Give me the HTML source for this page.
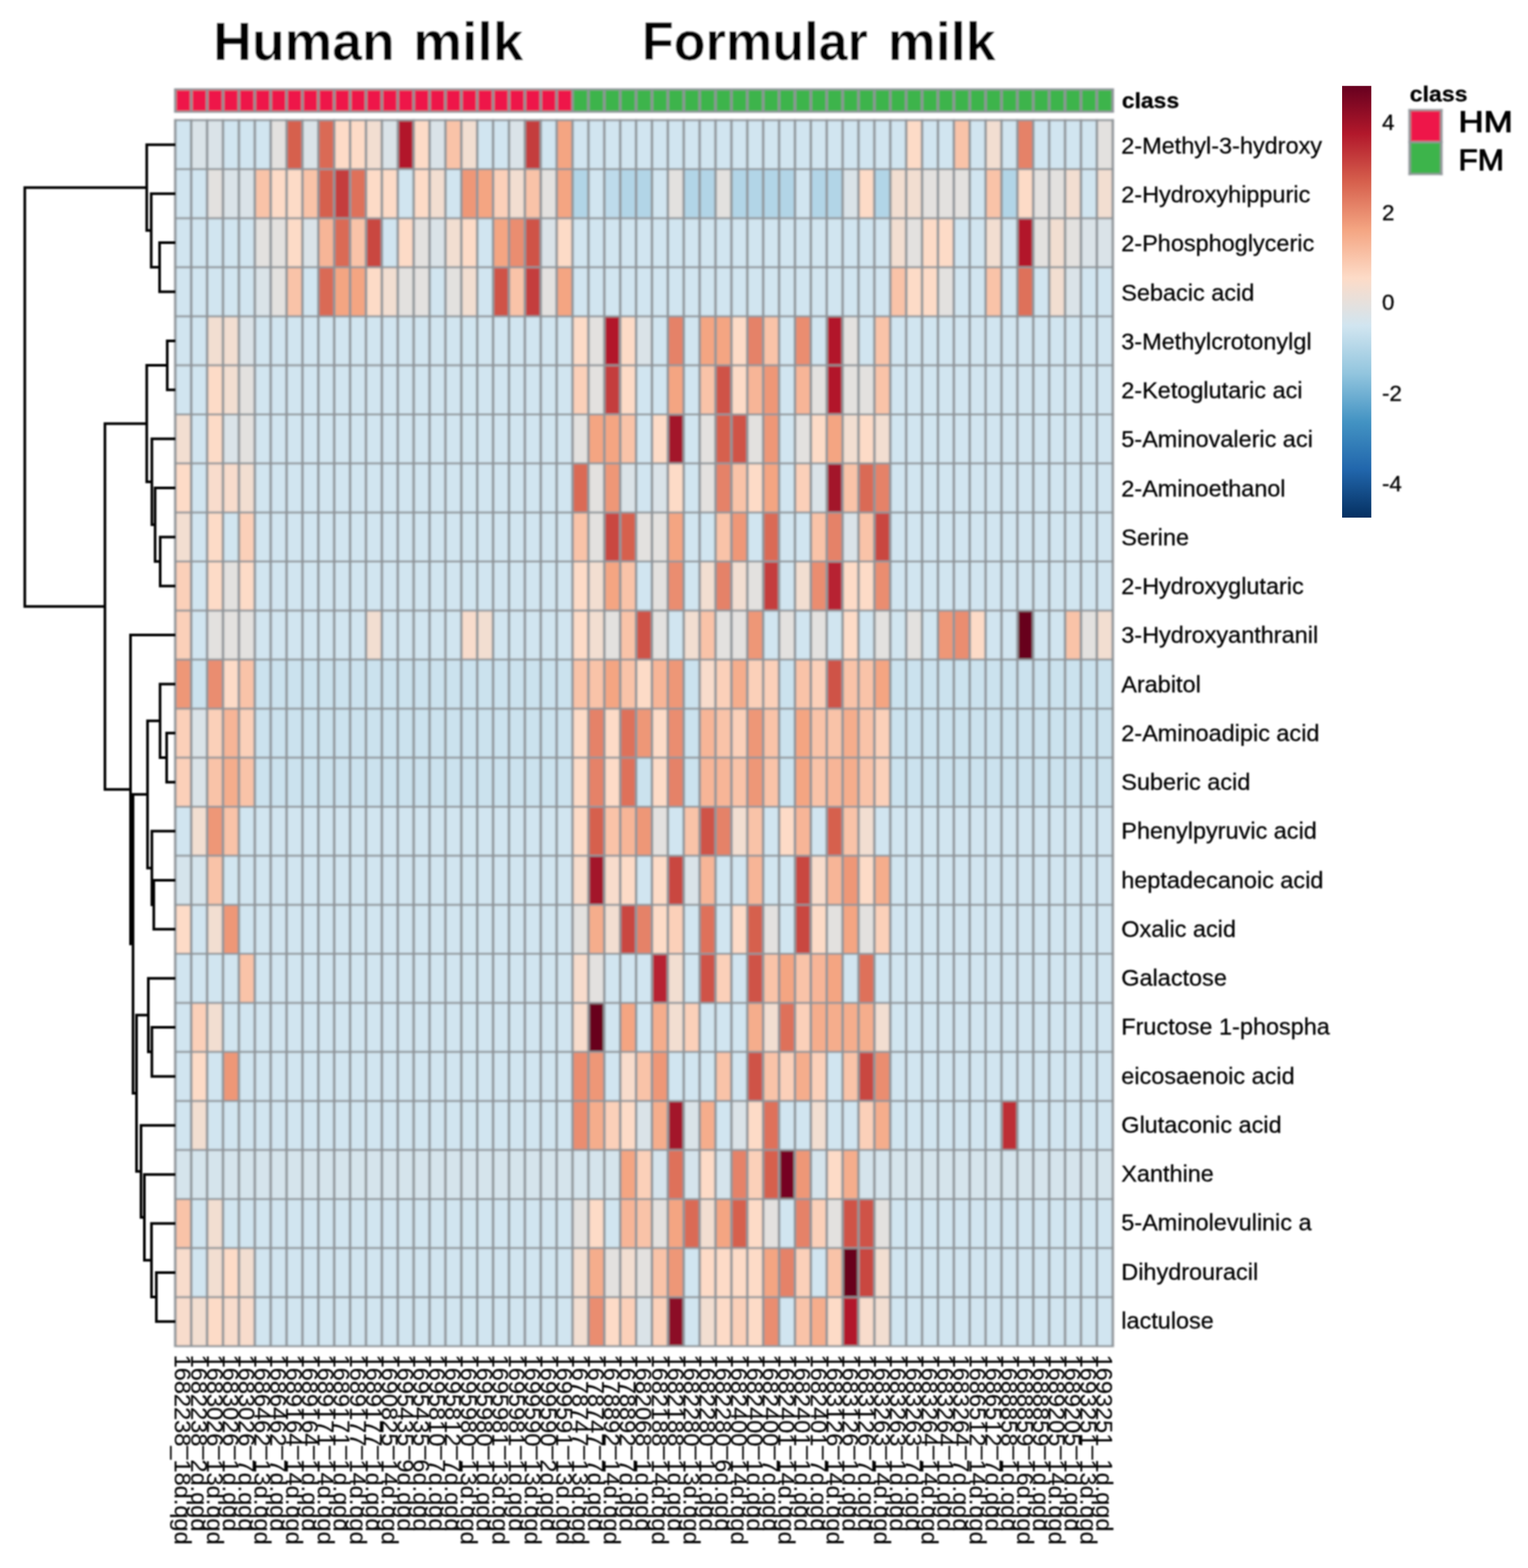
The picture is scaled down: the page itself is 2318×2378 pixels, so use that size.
<!DOCTYPE html>
<html lang="en"><head><meta charset="utf-8"><title>Heatmap: Human milk vs Formular milk</title>
<style>html,body{margin:0;padding:0;background:#fff}svg{display:block}text{font-family:"Liberation Sans",Arial,Helvetica,sans-serif;fill:#000000;stroke:#000000;stroke-width:0.4}.b{font-weight:bold}.c{stroke-width:0.2;fill:#000}.t{font-weight:bold;fill:#000;stroke:none}.tt{stroke:#fff;stroke-width:0.6}.d{fill:none;stroke:#000000;stroke-width:4.0;stroke-linejoin:miter;stroke-linecap:butt}</style></head><body>
<svg width="2318" height="2378" viewBox="0 0 2318 2378" role="img" aria-label="Clustered heatmap of metabolites in human milk and formula milk samples">
<defs><linearGradient id="lg" x1="0" y1="0" x2="0" y2="1">
<stop offset="0.0000" stop-color="#67001F"/>
<stop offset="0.1111" stop-color="#B2182B"/>
<stop offset="0.2222" stop-color="#D6604D"/>
<stop offset="0.3333" stop-color="#F4A582"/>
<stop offset="0.4444" stop-color="#FDDBC7"/>
<stop offset="0.5556" stop-color="#D1E5F0"/>
<stop offset="0.6667" stop-color="#92C5DE"/>
<stop offset="0.7778" stop-color="#4393C3"/>
<stop offset="0.8889" stop-color="#2166AC"/>
<stop offset="1.0000" stop-color="#053061"/>
</linearGradient>
<filter id="bl" x="-2%" y="-2%" width="104%" height="104%"><feGaussianBlur stdDeviation="1.0"/></filter>
<filter id="bd" x="-5%" y="-2%" width="110%" height="104%"><feGaussianBlur stdDeviation="1.3"/></filter>
<filter id="bg" x="-2%" y="-2%" width="104%" height="104%"><feGaussianBlur stdDeviation="1.6"/></filter>
</defs>
<rect x="0" y="0" width="2318" height="2378" fill="#fff"/>
<g filter="url(#bl)">
<text class="t tt" y="90.9" font-size="80.8"><tspan x="323.6" textLength="275.2" lengthAdjust="spacingAndGlyphs">Human</tspan> <tspan x="626.8" textLength="167.2" lengthAdjust="spacingAndGlyphs">milk</tspan></text>
<text class="t tt" y="90.9" font-size="80.8"><tspan x="973.8" textLength="342.8" lengthAdjust="spacingAndGlyphs">Formular</tspan> <tspan x="1346.8" textLength="163.8" lengthAdjust="spacingAndGlyphs">milk</tspan></text>
</g>
<g filter="url(#bg)">
<rect x="266.00" y="135.50" width="602.54" height="34.00" fill="#ee1248"/>
<rect x="868.54" y="135.50" width="819.46" height="34.00" fill="#3cb44b"/>
<rect x="266.00" y="182.20" width="24.10" height="74.37" fill="#d1e5f0"/>
<rect x="290.10" y="182.20" width="24.10" height="74.37" fill="#dae3e8"/>
<rect x="314.20" y="182.20" width="24.10" height="74.37" fill="#dae3e8"/>
<rect x="338.31" y="182.20" width="24.10" height="74.37" fill="#d1e5f0"/>
<rect x="362.41" y="182.20" width="24.10" height="74.37" fill="#d1e5f0"/>
<rect x="386.51" y="182.20" width="24.10" height="74.37" fill="#d1e5f0"/>
<rect x="410.61" y="182.20" width="24.10" height="74.37" fill="#e3e1df"/>
<rect x="434.71" y="182.20" width="24.10" height="74.37" fill="#d6604d"/>
<rect x="458.81" y="182.20" width="24.10" height="74.37" fill="#dae3e8"/>
<rect x="482.92" y="182.20" width="24.10" height="74.37" fill="#da6a55"/>
<rect x="507.02" y="182.20" width="24.10" height="74.37" fill="#fddbc7"/>
<rect x="531.12" y="182.20" width="24.10" height="74.37" fill="#fddbc7"/>
<rect x="555.22" y="182.20" width="24.10" height="74.37" fill="#f2ded1"/>
<rect x="579.32" y="182.20" width="24.10" height="74.37" fill="#dae3e8"/>
<rect x="603.42" y="182.20" width="24.10" height="74.37" fill="#b2182b"/>
<rect x="627.53" y="182.20" width="24.10" height="74.37" fill="#fddbc7"/>
<rect x="651.63" y="182.20" width="24.10" height="74.37" fill="#dae3e8"/>
<rect x="675.73" y="182.20" width="24.10" height="74.37" fill="#f9c3a8"/>
<rect x="699.83" y="182.20" width="24.10" height="74.37" fill="#f2ded1"/>
<rect x="723.93" y="182.20" width="24.10" height="74.37" fill="#d1e5f0"/>
<rect x="748.03" y="182.20" width="24.10" height="74.37" fill="#d1e5f0"/>
<rect x="772.14" y="182.20" width="24.10" height="74.37" fill="#dae3e8"/>
<rect x="796.24" y="182.20" width="24.10" height="74.37" fill="#c43c3c"/>
<rect x="820.34" y="182.20" width="24.10" height="74.37" fill="#d1e5f0"/>
<rect x="844.44" y="182.20" width="24.10" height="74.37" fill="#f4a582"/>
<rect x="868.54" y="182.20" width="24.10" height="74.37" fill="#d1e5f0"/>
<rect x="892.64" y="182.20" width="24.10" height="74.37" fill="#d1e5f0"/>
<rect x="916.75" y="182.20" width="24.10" height="74.37" fill="#d1e5f0"/>
<rect x="940.85" y="182.20" width="24.10" height="74.37" fill="#d1e5f0"/>
<rect x="964.95" y="182.20" width="24.10" height="74.37" fill="#d1e5f0"/>
<rect x="989.05" y="182.20" width="24.10" height="74.37" fill="#d1e5f0"/>
<rect x="1013.15" y="182.20" width="24.10" height="74.37" fill="#d1e5f0"/>
<rect x="1037.25" y="182.20" width="24.10" height="74.37" fill="#d1e5f0"/>
<rect x="1061.36" y="182.20" width="24.10" height="74.37" fill="#d1e5f0"/>
<rect x="1085.46" y="182.20" width="24.10" height="74.37" fill="#d1e5f0"/>
<rect x="1109.56" y="182.20" width="24.10" height="74.37" fill="#d1e5f0"/>
<rect x="1133.66" y="182.20" width="24.10" height="74.37" fill="#d1e5f0"/>
<rect x="1157.76" y="182.20" width="24.10" height="74.37" fill="#d1e5f0"/>
<rect x="1181.86" y="182.20" width="24.10" height="74.37" fill="#d1e5f0"/>
<rect x="1205.97" y="182.20" width="24.10" height="74.37" fill="#d1e5f0"/>
<rect x="1230.07" y="182.20" width="24.10" height="74.37" fill="#d1e5f0"/>
<rect x="1254.17" y="182.20" width="24.10" height="74.37" fill="#d1e5f0"/>
<rect x="1278.27" y="182.20" width="24.10" height="74.37" fill="#d1e5f0"/>
<rect x="1302.37" y="182.20" width="24.10" height="74.37" fill="#d1e5f0"/>
<rect x="1326.47" y="182.20" width="24.10" height="74.37" fill="#d1e5f0"/>
<rect x="1350.58" y="182.20" width="24.10" height="74.37" fill="#d1e5f0"/>
<rect x="1374.68" y="182.20" width="24.10" height="74.37" fill="#fddbc7"/>
<rect x="1398.78" y="182.20" width="24.10" height="74.37" fill="#d1e5f0"/>
<rect x="1422.88" y="182.20" width="24.10" height="74.37" fill="#d1e5f0"/>
<rect x="1446.98" y="182.20" width="24.10" height="74.37" fill="#f9c3a8"/>
<rect x="1471.08" y="182.20" width="24.10" height="74.37" fill="#d1e5f0"/>
<rect x="1495.19" y="182.20" width="24.10" height="74.37" fill="#f2ded1"/>
<rect x="1519.29" y="182.20" width="24.10" height="74.37" fill="#d1e5f0"/>
<rect x="1543.39" y="182.20" width="24.10" height="74.37" fill="#e58268"/>
<rect x="1567.49" y="182.20" width="24.10" height="74.37" fill="#d1e5f0"/>
<rect x="1591.59" y="182.20" width="24.10" height="74.37" fill="#d1e5f0"/>
<rect x="1615.69" y="182.20" width="24.10" height="74.37" fill="#d1e5f0"/>
<rect x="1639.80" y="182.20" width="24.10" height="74.37" fill="#d1e5f0"/>
<rect x="1663.90" y="182.20" width="24.10" height="74.37" fill="#e3e1df"/>
<rect x="266.00" y="256.57" width="24.10" height="74.37" fill="#d1e5f0"/>
<rect x="290.10" y="256.57" width="24.10" height="74.37" fill="#d1e5f0"/>
<rect x="314.20" y="256.57" width="24.10" height="74.37" fill="#e3e1df"/>
<rect x="338.31" y="256.57" width="24.10" height="74.37" fill="#dae3e8"/>
<rect x="362.41" y="256.57" width="24.10" height="74.37" fill="#dae3e8"/>
<rect x="386.51" y="256.57" width="24.10" height="74.37" fill="#f9c3a8"/>
<rect x="410.61" y="256.57" width="24.10" height="74.37" fill="#fddbc7"/>
<rect x="434.71" y="256.57" width="24.10" height="74.37" fill="#fddbc7"/>
<rect x="458.81" y="256.57" width="24.10" height="74.37" fill="#f9c3a8"/>
<rect x="482.92" y="256.57" width="24.10" height="74.37" fill="#d6604d"/>
<rect x="507.02" y="256.57" width="24.10" height="74.37" fill="#c43c3c"/>
<rect x="531.12" y="256.57" width="24.10" height="74.37" fill="#de715a"/>
<rect x="555.22" y="256.57" width="24.10" height="74.37" fill="#fddbc7"/>
<rect x="579.32" y="256.57" width="24.10" height="74.37" fill="#fddbc7"/>
<rect x="603.42" y="256.57" width="24.10" height="74.37" fill="#d1e5f0"/>
<rect x="627.53" y="256.57" width="24.10" height="74.37" fill="#fddbc7"/>
<rect x="651.63" y="256.57" width="24.10" height="74.37" fill="#f2ded1"/>
<rect x="675.73" y="256.57" width="24.10" height="74.37" fill="#d1e5f0"/>
<rect x="699.83" y="256.57" width="24.10" height="74.37" fill="#ee9777"/>
<rect x="723.93" y="256.57" width="24.10" height="74.37" fill="#f4a582"/>
<rect x="748.03" y="256.57" width="24.10" height="74.37" fill="#fbd0b9"/>
<rect x="772.14" y="256.57" width="24.10" height="74.37" fill="#f2ded1"/>
<rect x="796.24" y="256.57" width="24.10" height="74.37" fill="#f9c3a8"/>
<rect x="820.34" y="256.57" width="24.10" height="74.37" fill="#e3e1df"/>
<rect x="844.44" y="256.57" width="24.10" height="74.37" fill="#f4a582"/>
<rect x="868.54" y="256.57" width="24.10" height="74.37" fill="#b2d5e7"/>
<rect x="892.64" y="256.57" width="24.10" height="74.37" fill="#d1e5f0"/>
<rect x="916.75" y="256.57" width="24.10" height="74.37" fill="#bedbeb"/>
<rect x="940.85" y="256.57" width="24.10" height="74.37" fill="#b2d5e7"/>
<rect x="964.95" y="256.57" width="24.10" height="74.37" fill="#b2d5e7"/>
<rect x="989.05" y="256.57" width="24.10" height="74.37" fill="#d1e5f0"/>
<rect x="1013.15" y="256.57" width="24.10" height="74.37" fill="#e3e1df"/>
<rect x="1037.25" y="256.57" width="24.10" height="74.37" fill="#b2d5e7"/>
<rect x="1061.36" y="256.57" width="24.10" height="74.37" fill="#b2d5e7"/>
<rect x="1085.46" y="256.57" width="24.10" height="74.37" fill="#e3e1df"/>
<rect x="1109.56" y="256.57" width="24.10" height="74.37" fill="#b2d5e7"/>
<rect x="1133.66" y="256.57" width="24.10" height="74.37" fill="#b2d5e7"/>
<rect x="1157.76" y="256.57" width="24.10" height="74.37" fill="#b2d5e7"/>
<rect x="1181.86" y="256.57" width="24.10" height="74.37" fill="#b2d5e7"/>
<rect x="1205.97" y="256.57" width="24.10" height="74.37" fill="#d1e5f0"/>
<rect x="1230.07" y="256.57" width="24.10" height="74.37" fill="#b2d5e7"/>
<rect x="1254.17" y="256.57" width="24.10" height="74.37" fill="#b2d5e7"/>
<rect x="1278.27" y="256.57" width="24.10" height="74.37" fill="#dae3e8"/>
<rect x="1302.37" y="256.57" width="24.10" height="74.37" fill="#fddbc7"/>
<rect x="1326.47" y="256.57" width="24.10" height="74.37" fill="#b2d5e7"/>
<rect x="1350.58" y="256.57" width="24.10" height="74.37" fill="#f2ded1"/>
<rect x="1374.68" y="256.57" width="24.10" height="74.37" fill="#f2ded1"/>
<rect x="1398.78" y="256.57" width="24.10" height="74.37" fill="#e3e1df"/>
<rect x="1422.88" y="256.57" width="24.10" height="74.37" fill="#e3e1df"/>
<rect x="1446.98" y="256.57" width="24.10" height="74.37" fill="#e3e1df"/>
<rect x="1471.08" y="256.57" width="24.10" height="74.37" fill="#d1e5f0"/>
<rect x="1495.19" y="256.57" width="24.10" height="74.37" fill="#f9c3a8"/>
<rect x="1519.29" y="256.57" width="24.10" height="74.37" fill="#b2d5e7"/>
<rect x="1543.39" y="256.57" width="24.10" height="74.37" fill="#fddbc7"/>
<rect x="1567.49" y="256.57" width="24.10" height="74.37" fill="#e3e1df"/>
<rect x="1591.59" y="256.57" width="24.10" height="74.37" fill="#e3e1df"/>
<rect x="1615.69" y="256.57" width="24.10" height="74.37" fill="#f2ded1"/>
<rect x="1639.80" y="256.57" width="24.10" height="74.37" fill="#d1e5f0"/>
<rect x="1663.90" y="256.57" width="24.10" height="74.37" fill="#f2ded1"/>
<rect x="266.00" y="330.94" width="24.10" height="74.37" fill="#d1e5f0"/>
<rect x="290.10" y="330.94" width="24.10" height="74.37" fill="#d1e5f0"/>
<rect x="314.20" y="330.94" width="24.10" height="74.37" fill="#d1e5f0"/>
<rect x="338.31" y="330.94" width="24.10" height="74.37" fill="#d1e5f0"/>
<rect x="362.41" y="330.94" width="24.10" height="74.37" fill="#d1e5f0"/>
<rect x="386.51" y="330.94" width="24.10" height="74.37" fill="#e3e1df"/>
<rect x="410.61" y="330.94" width="24.10" height="74.37" fill="#e3e1df"/>
<rect x="434.71" y="330.94" width="24.10" height="74.37" fill="#fddbc7"/>
<rect x="458.81" y="330.94" width="24.10" height="74.37" fill="#dae3e8"/>
<rect x="482.92" y="330.94" width="24.10" height="74.37" fill="#f7b597"/>
<rect x="507.02" y="330.94" width="24.10" height="74.37" fill="#da6a55"/>
<rect x="531.12" y="330.94" width="24.10" height="74.37" fill="#f9c3a8"/>
<rect x="555.22" y="330.94" width="24.10" height="74.37" fill="#c94741"/>
<rect x="579.32" y="330.94" width="24.10" height="74.37" fill="#d1e5f0"/>
<rect x="603.42" y="330.94" width="24.10" height="74.37" fill="#fddbc7"/>
<rect x="627.53" y="330.94" width="24.10" height="74.37" fill="#e3e1df"/>
<rect x="651.63" y="330.94" width="24.10" height="74.37" fill="#dae3e8"/>
<rect x="675.73" y="330.94" width="24.10" height="74.37" fill="#f2ded1"/>
<rect x="699.83" y="330.94" width="24.10" height="74.37" fill="#fddbc7"/>
<rect x="723.93" y="330.94" width="24.10" height="74.37" fill="#d1e5f0"/>
<rect x="748.03" y="330.94" width="24.10" height="74.37" fill="#f4a582"/>
<rect x="772.14" y="330.94" width="24.10" height="74.37" fill="#ea8d6f"/>
<rect x="796.24" y="330.94" width="24.10" height="74.37" fill="#cf5246"/>
<rect x="820.34" y="330.94" width="24.10" height="74.37" fill="#dae3e8"/>
<rect x="844.44" y="330.94" width="24.10" height="74.37" fill="#fddbc7"/>
<rect x="868.54" y="330.94" width="24.10" height="74.37" fill="#d1e5f0"/>
<rect x="892.64" y="330.94" width="24.10" height="74.37" fill="#d1e5f0"/>
<rect x="916.75" y="330.94" width="24.10" height="74.37" fill="#d1e5f0"/>
<rect x="940.85" y="330.94" width="24.10" height="74.37" fill="#d1e5f0"/>
<rect x="964.95" y="330.94" width="24.10" height="74.37" fill="#d1e5f0"/>
<rect x="989.05" y="330.94" width="24.10" height="74.37" fill="#d1e5f0"/>
<rect x="1013.15" y="330.94" width="24.10" height="74.37" fill="#d1e5f0"/>
<rect x="1037.25" y="330.94" width="24.10" height="74.37" fill="#d1e5f0"/>
<rect x="1061.36" y="330.94" width="24.10" height="74.37" fill="#d1e5f0"/>
<rect x="1085.46" y="330.94" width="24.10" height="74.37" fill="#d1e5f0"/>
<rect x="1109.56" y="330.94" width="24.10" height="74.37" fill="#d1e5f0"/>
<rect x="1133.66" y="330.94" width="24.10" height="74.37" fill="#d1e5f0"/>
<rect x="1157.76" y="330.94" width="24.10" height="74.37" fill="#d1e5f0"/>
<rect x="1181.86" y="330.94" width="24.10" height="74.37" fill="#d1e5f0"/>
<rect x="1205.97" y="330.94" width="24.10" height="74.37" fill="#d1e5f0"/>
<rect x="1230.07" y="330.94" width="24.10" height="74.37" fill="#d1e5f0"/>
<rect x="1254.17" y="330.94" width="24.10" height="74.37" fill="#d1e5f0"/>
<rect x="1278.27" y="330.94" width="24.10" height="74.37" fill="#d1e5f0"/>
<rect x="1302.37" y="330.94" width="24.10" height="74.37" fill="#d1e5f0"/>
<rect x="1326.47" y="330.94" width="24.10" height="74.37" fill="#d1e5f0"/>
<rect x="1350.58" y="330.94" width="24.10" height="74.37" fill="#f2ded1"/>
<rect x="1374.68" y="330.94" width="24.10" height="74.37" fill="#e3e1df"/>
<rect x="1398.78" y="330.94" width="24.10" height="74.37" fill="#fddbc7"/>
<rect x="1422.88" y="330.94" width="24.10" height="74.37" fill="#fddbc7"/>
<rect x="1446.98" y="330.94" width="24.10" height="74.37" fill="#d1e5f0"/>
<rect x="1471.08" y="330.94" width="24.10" height="74.37" fill="#d1e5f0"/>
<rect x="1495.19" y="330.94" width="24.10" height="74.37" fill="#f2ded1"/>
<rect x="1519.29" y="330.94" width="24.10" height="74.37" fill="#d1e5f0"/>
<rect x="1543.39" y="330.94" width="24.10" height="74.37" fill="#b2182b"/>
<rect x="1567.49" y="330.94" width="24.10" height="74.37" fill="#e3e1df"/>
<rect x="1591.59" y="330.94" width="24.10" height="74.37" fill="#f2ded1"/>
<rect x="1615.69" y="330.94" width="24.10" height="74.37" fill="#e3e1df"/>
<rect x="1639.80" y="330.94" width="24.10" height="74.37" fill="#dae3e8"/>
<rect x="1663.90" y="330.94" width="24.10" height="74.37" fill="#dae3e8"/>
<rect x="266.00" y="405.32" width="24.10" height="74.37" fill="#d1e5f0"/>
<rect x="290.10" y="405.32" width="24.10" height="74.37" fill="#d1e5f0"/>
<rect x="314.20" y="405.32" width="24.10" height="74.37" fill="#d1e5f0"/>
<rect x="338.31" y="405.32" width="24.10" height="74.37" fill="#d1e5f0"/>
<rect x="362.41" y="405.32" width="24.10" height="74.37" fill="#d1e5f0"/>
<rect x="386.51" y="405.32" width="24.10" height="74.37" fill="#dae3e8"/>
<rect x="410.61" y="405.32" width="24.10" height="74.37" fill="#e3e1df"/>
<rect x="434.71" y="405.32" width="24.10" height="74.37" fill="#f9c3a8"/>
<rect x="458.81" y="405.32" width="24.10" height="74.37" fill="#d1e5f0"/>
<rect x="482.92" y="405.32" width="24.10" height="74.37" fill="#da6a55"/>
<rect x="507.02" y="405.32" width="24.10" height="74.37" fill="#f4a582"/>
<rect x="531.12" y="405.32" width="24.10" height="74.37" fill="#f4a582"/>
<rect x="555.22" y="405.32" width="24.10" height="74.37" fill="#fddbc7"/>
<rect x="579.32" y="405.32" width="24.10" height="74.37" fill="#f2ded1"/>
<rect x="603.42" y="405.32" width="24.10" height="74.37" fill="#e3e1df"/>
<rect x="627.53" y="405.32" width="24.10" height="74.37" fill="#e3e1df"/>
<rect x="651.63" y="405.32" width="24.10" height="74.37" fill="#d1e5f0"/>
<rect x="675.73" y="405.32" width="24.10" height="74.37" fill="#e3e1df"/>
<rect x="699.83" y="405.32" width="24.10" height="74.37" fill="#f2ded1"/>
<rect x="723.93" y="405.32" width="24.10" height="74.37" fill="#d1e5f0"/>
<rect x="748.03" y="405.32" width="24.10" height="74.37" fill="#cf5246"/>
<rect x="772.14" y="405.32" width="24.10" height="74.37" fill="#f9c3a8"/>
<rect x="796.24" y="405.32" width="24.10" height="74.37" fill="#c43c3c"/>
<rect x="820.34" y="405.32" width="24.10" height="74.37" fill="#e3e1df"/>
<rect x="844.44" y="405.32" width="24.10" height="74.37" fill="#f4a582"/>
<rect x="868.54" y="405.32" width="24.10" height="74.37" fill="#d1e5f0"/>
<rect x="892.64" y="405.32" width="24.10" height="74.37" fill="#d1e5f0"/>
<rect x="916.75" y="405.32" width="24.10" height="74.37" fill="#d1e5f0"/>
<rect x="940.85" y="405.32" width="24.10" height="74.37" fill="#d1e5f0"/>
<rect x="964.95" y="405.32" width="24.10" height="74.37" fill="#d1e5f0"/>
<rect x="989.05" y="405.32" width="24.10" height="74.37" fill="#d1e5f0"/>
<rect x="1013.15" y="405.32" width="24.10" height="74.37" fill="#d1e5f0"/>
<rect x="1037.25" y="405.32" width="24.10" height="74.37" fill="#d1e5f0"/>
<rect x="1061.36" y="405.32" width="24.10" height="74.37" fill="#d1e5f0"/>
<rect x="1085.46" y="405.32" width="24.10" height="74.37" fill="#d1e5f0"/>
<rect x="1109.56" y="405.32" width="24.10" height="74.37" fill="#d1e5f0"/>
<rect x="1133.66" y="405.32" width="24.10" height="74.37" fill="#d1e5f0"/>
<rect x="1157.76" y="405.32" width="24.10" height="74.37" fill="#d1e5f0"/>
<rect x="1181.86" y="405.32" width="24.10" height="74.37" fill="#d1e5f0"/>
<rect x="1205.97" y="405.32" width="24.10" height="74.37" fill="#d1e5f0"/>
<rect x="1230.07" y="405.32" width="24.10" height="74.37" fill="#d1e5f0"/>
<rect x="1254.17" y="405.32" width="24.10" height="74.37" fill="#d1e5f0"/>
<rect x="1278.27" y="405.32" width="24.10" height="74.37" fill="#d1e5f0"/>
<rect x="1302.37" y="405.32" width="24.10" height="74.37" fill="#d1e5f0"/>
<rect x="1326.47" y="405.32" width="24.10" height="74.37" fill="#d1e5f0"/>
<rect x="1350.58" y="405.32" width="24.10" height="74.37" fill="#f9c3a8"/>
<rect x="1374.68" y="405.32" width="24.10" height="74.37" fill="#fddbc7"/>
<rect x="1398.78" y="405.32" width="24.10" height="74.37" fill="#fddbc7"/>
<rect x="1422.88" y="405.32" width="24.10" height="74.37" fill="#e3e1df"/>
<rect x="1446.98" y="405.32" width="24.10" height="74.37" fill="#d1e5f0"/>
<rect x="1471.08" y="405.32" width="24.10" height="74.37" fill="#d1e5f0"/>
<rect x="1495.19" y="405.32" width="24.10" height="74.37" fill="#f9c3a8"/>
<rect x="1519.29" y="405.32" width="24.10" height="74.37" fill="#d1e5f0"/>
<rect x="1543.39" y="405.32" width="24.10" height="74.37" fill="#de715a"/>
<rect x="1567.49" y="405.32" width="24.10" height="74.37" fill="#d1e5f0"/>
<rect x="1591.59" y="405.32" width="24.10" height="74.37" fill="#f2ded1"/>
<rect x="1615.69" y="405.32" width="24.10" height="74.37" fill="#dae3e8"/>
<rect x="1639.80" y="405.32" width="24.10" height="74.37" fill="#d1e5f0"/>
<rect x="1663.90" y="405.32" width="24.10" height="74.37" fill="#d1e5f0"/>
<rect x="266.00" y="479.69" width="24.10" height="74.37" fill="#d1e5f0"/>
<rect x="290.10" y="479.69" width="24.10" height="74.37" fill="#d1e5f0"/>
<rect x="314.20" y="479.69" width="24.10" height="74.37" fill="#f2ded1"/>
<rect x="338.31" y="479.69" width="24.10" height="74.37" fill="#f2ded1"/>
<rect x="362.41" y="479.69" width="24.10" height="74.37" fill="#dae3e8"/>
<rect x="386.51" y="479.69" width="24.10" height="74.37" fill="#d1e5f0"/>
<rect x="410.61" y="479.69" width="24.10" height="74.37" fill="#d1e5f0"/>
<rect x="434.71" y="479.69" width="24.10" height="74.37" fill="#d1e5f0"/>
<rect x="458.81" y="479.69" width="24.10" height="74.37" fill="#d1e5f0"/>
<rect x="482.92" y="479.69" width="24.10" height="74.37" fill="#d1e5f0"/>
<rect x="507.02" y="479.69" width="24.10" height="74.37" fill="#d1e5f0"/>
<rect x="531.12" y="479.69" width="24.10" height="74.37" fill="#d1e5f0"/>
<rect x="555.22" y="479.69" width="24.10" height="74.37" fill="#d1e5f0"/>
<rect x="579.32" y="479.69" width="24.10" height="74.37" fill="#d1e5f0"/>
<rect x="603.42" y="479.69" width="24.10" height="74.37" fill="#d1e5f0"/>
<rect x="627.53" y="479.69" width="24.10" height="74.37" fill="#d1e5f0"/>
<rect x="651.63" y="479.69" width="24.10" height="74.37" fill="#d1e5f0"/>
<rect x="675.73" y="479.69" width="24.10" height="74.37" fill="#d1e5f0"/>
<rect x="699.83" y="479.69" width="24.10" height="74.37" fill="#d1e5f0"/>
<rect x="723.93" y="479.69" width="24.10" height="74.37" fill="#d1e5f0"/>
<rect x="748.03" y="479.69" width="24.10" height="74.37" fill="#d1e5f0"/>
<rect x="772.14" y="479.69" width="24.10" height="74.37" fill="#d1e5f0"/>
<rect x="796.24" y="479.69" width="24.10" height="74.37" fill="#d1e5f0"/>
<rect x="820.34" y="479.69" width="24.10" height="74.37" fill="#d1e5f0"/>
<rect x="844.44" y="479.69" width="24.10" height="74.37" fill="#d1e5f0"/>
<rect x="868.54" y="479.69" width="24.10" height="74.37" fill="#fddbc7"/>
<rect x="892.64" y="479.69" width="24.10" height="74.37" fill="#e3e1df"/>
<rect x="916.75" y="479.69" width="24.10" height="74.37" fill="#b2182b"/>
<rect x="940.85" y="479.69" width="24.10" height="74.37" fill="#fddbc7"/>
<rect x="964.95" y="479.69" width="24.10" height="74.37" fill="#dae3e8"/>
<rect x="989.05" y="479.69" width="24.10" height="74.37" fill="#d1e5f0"/>
<rect x="1013.15" y="479.69" width="24.10" height="74.37" fill="#e58268"/>
<rect x="1037.25" y="479.69" width="24.10" height="74.37" fill="#d1e5f0"/>
<rect x="1061.36" y="479.69" width="24.10" height="74.37" fill="#f4a582"/>
<rect x="1085.46" y="479.69" width="24.10" height="74.37" fill="#f4a582"/>
<rect x="1109.56" y="479.69" width="24.10" height="74.37" fill="#fddbc7"/>
<rect x="1133.66" y="479.69" width="24.10" height="74.37" fill="#e58268"/>
<rect x="1157.76" y="479.69" width="24.10" height="74.37" fill="#f9c3a8"/>
<rect x="1181.86" y="479.69" width="24.10" height="74.37" fill="#d1e5f0"/>
<rect x="1205.97" y="479.69" width="24.10" height="74.37" fill="#ea8d6f"/>
<rect x="1230.07" y="479.69" width="24.10" height="74.37" fill="#d1e5f0"/>
<rect x="1254.17" y="479.69" width="24.10" height="74.37" fill="#b2182b"/>
<rect x="1278.27" y="479.69" width="24.10" height="74.37" fill="#e3e1df"/>
<rect x="1302.37" y="479.69" width="24.10" height="74.37" fill="#d1e5f0"/>
<rect x="1326.47" y="479.69" width="24.10" height="74.37" fill="#f9c3a8"/>
<rect x="1350.58" y="479.69" width="24.10" height="74.37" fill="#d1e5f0"/>
<rect x="1374.68" y="479.69" width="24.10" height="74.37" fill="#d1e5f0"/>
<rect x="1398.78" y="479.69" width="24.10" height="74.37" fill="#d1e5f0"/>
<rect x="1422.88" y="479.69" width="24.10" height="74.37" fill="#d1e5f0"/>
<rect x="1446.98" y="479.69" width="24.10" height="74.37" fill="#d1e5f0"/>
<rect x="1471.08" y="479.69" width="24.10" height="74.37" fill="#d1e5f0"/>
<rect x="1495.19" y="479.69" width="24.10" height="74.37" fill="#d1e5f0"/>
<rect x="1519.29" y="479.69" width="24.10" height="74.37" fill="#d1e5f0"/>
<rect x="1543.39" y="479.69" width="24.10" height="74.37" fill="#d1e5f0"/>
<rect x="1567.49" y="479.69" width="24.10" height="74.37" fill="#d1e5f0"/>
<rect x="1591.59" y="479.69" width="24.10" height="74.37" fill="#d1e5f0"/>
<rect x="1615.69" y="479.69" width="24.10" height="74.37" fill="#d1e5f0"/>
<rect x="1639.80" y="479.69" width="24.10" height="74.37" fill="#d1e5f0"/>
<rect x="1663.90" y="479.69" width="24.10" height="74.37" fill="#d1e5f0"/>
<rect x="266.00" y="554.06" width="24.10" height="74.37" fill="#d1e5f0"/>
<rect x="290.10" y="554.06" width="24.10" height="74.37" fill="#d1e5f0"/>
<rect x="314.20" y="554.06" width="24.10" height="74.37" fill="#fddbc7"/>
<rect x="338.31" y="554.06" width="24.10" height="74.37" fill="#f2ded1"/>
<rect x="362.41" y="554.06" width="24.10" height="74.37" fill="#e3e1df"/>
<rect x="386.51" y="554.06" width="24.10" height="74.37" fill="#d1e5f0"/>
<rect x="410.61" y="554.06" width="24.10" height="74.37" fill="#d1e5f0"/>
<rect x="434.71" y="554.06" width="24.10" height="74.37" fill="#d1e5f0"/>
<rect x="458.81" y="554.06" width="24.10" height="74.37" fill="#d1e5f0"/>
<rect x="482.92" y="554.06" width="24.10" height="74.37" fill="#d1e5f0"/>
<rect x="507.02" y="554.06" width="24.10" height="74.37" fill="#d1e5f0"/>
<rect x="531.12" y="554.06" width="24.10" height="74.37" fill="#d1e5f0"/>
<rect x="555.22" y="554.06" width="24.10" height="74.37" fill="#d1e5f0"/>
<rect x="579.32" y="554.06" width="24.10" height="74.37" fill="#d1e5f0"/>
<rect x="603.42" y="554.06" width="24.10" height="74.37" fill="#d1e5f0"/>
<rect x="627.53" y="554.06" width="24.10" height="74.37" fill="#d1e5f0"/>
<rect x="651.63" y="554.06" width="24.10" height="74.37" fill="#d1e5f0"/>
<rect x="675.73" y="554.06" width="24.10" height="74.37" fill="#d1e5f0"/>
<rect x="699.83" y="554.06" width="24.10" height="74.37" fill="#d1e5f0"/>
<rect x="723.93" y="554.06" width="24.10" height="74.37" fill="#d1e5f0"/>
<rect x="748.03" y="554.06" width="24.10" height="74.37" fill="#d1e5f0"/>
<rect x="772.14" y="554.06" width="24.10" height="74.37" fill="#d1e5f0"/>
<rect x="796.24" y="554.06" width="24.10" height="74.37" fill="#d1e5f0"/>
<rect x="820.34" y="554.06" width="24.10" height="74.37" fill="#d1e5f0"/>
<rect x="844.44" y="554.06" width="24.10" height="74.37" fill="#d1e5f0"/>
<rect x="868.54" y="554.06" width="24.10" height="74.37" fill="#fbd0b9"/>
<rect x="892.64" y="554.06" width="24.10" height="74.37" fill="#e3e1df"/>
<rect x="916.75" y="554.06" width="24.10" height="74.37" fill="#c43c3c"/>
<rect x="940.85" y="554.06" width="24.10" height="74.37" fill="#fddbc7"/>
<rect x="964.95" y="554.06" width="24.10" height="74.37" fill="#d1e5f0"/>
<rect x="989.05" y="554.06" width="24.10" height="74.37" fill="#d1e5f0"/>
<rect x="1013.15" y="554.06" width="24.10" height="74.37" fill="#f4a582"/>
<rect x="1037.25" y="554.06" width="24.10" height="74.37" fill="#d1e5f0"/>
<rect x="1061.36" y="554.06" width="24.10" height="74.37" fill="#f9c3a8"/>
<rect x="1085.46" y="554.06" width="24.10" height="74.37" fill="#cf5246"/>
<rect x="1109.56" y="554.06" width="24.10" height="74.37" fill="#fddbc7"/>
<rect x="1133.66" y="554.06" width="24.10" height="74.37" fill="#f7b597"/>
<rect x="1157.76" y="554.06" width="24.10" height="74.37" fill="#ee9777"/>
<rect x="1181.86" y="554.06" width="24.10" height="74.37" fill="#d1e5f0"/>
<rect x="1205.97" y="554.06" width="24.10" height="74.37" fill="#f7b597"/>
<rect x="1230.07" y="554.06" width="24.10" height="74.37" fill="#e3e1df"/>
<rect x="1254.17" y="554.06" width="24.10" height="74.37" fill="#b2182b"/>
<rect x="1278.27" y="554.06" width="24.10" height="74.37" fill="#e3e1df"/>
<rect x="1302.37" y="554.06" width="24.10" height="74.37" fill="#e3e1df"/>
<rect x="1326.47" y="554.06" width="24.10" height="74.37" fill="#f9c3a8"/>
<rect x="1350.58" y="554.06" width="24.10" height="74.37" fill="#d1e5f0"/>
<rect x="1374.68" y="554.06" width="24.10" height="74.37" fill="#d1e5f0"/>
<rect x="1398.78" y="554.06" width="24.10" height="74.37" fill="#d1e5f0"/>
<rect x="1422.88" y="554.06" width="24.10" height="74.37" fill="#d1e5f0"/>
<rect x="1446.98" y="554.06" width="24.10" height="74.37" fill="#d1e5f0"/>
<rect x="1471.08" y="554.06" width="24.10" height="74.37" fill="#d1e5f0"/>
<rect x="1495.19" y="554.06" width="24.10" height="74.37" fill="#d1e5f0"/>
<rect x="1519.29" y="554.06" width="24.10" height="74.37" fill="#d1e5f0"/>
<rect x="1543.39" y="554.06" width="24.10" height="74.37" fill="#d1e5f0"/>
<rect x="1567.49" y="554.06" width="24.10" height="74.37" fill="#d1e5f0"/>
<rect x="1591.59" y="554.06" width="24.10" height="74.37" fill="#d1e5f0"/>
<rect x="1615.69" y="554.06" width="24.10" height="74.37" fill="#d1e5f0"/>
<rect x="1639.80" y="554.06" width="24.10" height="74.37" fill="#d1e5f0"/>
<rect x="1663.90" y="554.06" width="24.10" height="74.37" fill="#d1e5f0"/>
<rect x="266.00" y="628.43" width="24.10" height="74.37" fill="#f2ded1"/>
<rect x="290.10" y="628.43" width="24.10" height="74.37" fill="#d1e5f0"/>
<rect x="314.20" y="628.43" width="24.10" height="74.37" fill="#fddbc7"/>
<rect x="338.31" y="628.43" width="24.10" height="74.37" fill="#dae3e8"/>
<rect x="362.41" y="628.43" width="24.10" height="74.37" fill="#e3e1df"/>
<rect x="386.51" y="628.43" width="24.10" height="74.37" fill="#d1e5f0"/>
<rect x="410.61" y="628.43" width="24.10" height="74.37" fill="#d1e5f0"/>
<rect x="434.71" y="628.43" width="24.10" height="74.37" fill="#d1e5f0"/>
<rect x="458.81" y="628.43" width="24.10" height="74.37" fill="#d1e5f0"/>
<rect x="482.92" y="628.43" width="24.10" height="74.37" fill="#d1e5f0"/>
<rect x="507.02" y="628.43" width="24.10" height="74.37" fill="#d1e5f0"/>
<rect x="531.12" y="628.43" width="24.10" height="74.37" fill="#d1e5f0"/>
<rect x="555.22" y="628.43" width="24.10" height="74.37" fill="#d1e5f0"/>
<rect x="579.32" y="628.43" width="24.10" height="74.37" fill="#d1e5f0"/>
<rect x="603.42" y="628.43" width="24.10" height="74.37" fill="#d1e5f0"/>
<rect x="627.53" y="628.43" width="24.10" height="74.37" fill="#d1e5f0"/>
<rect x="651.63" y="628.43" width="24.10" height="74.37" fill="#d1e5f0"/>
<rect x="675.73" y="628.43" width="24.10" height="74.37" fill="#d1e5f0"/>
<rect x="699.83" y="628.43" width="24.10" height="74.37" fill="#d1e5f0"/>
<rect x="723.93" y="628.43" width="24.10" height="74.37" fill="#d1e5f0"/>
<rect x="748.03" y="628.43" width="24.10" height="74.37" fill="#d1e5f0"/>
<rect x="772.14" y="628.43" width="24.10" height="74.37" fill="#d1e5f0"/>
<rect x="796.24" y="628.43" width="24.10" height="74.37" fill="#d1e5f0"/>
<rect x="820.34" y="628.43" width="24.10" height="74.37" fill="#d1e5f0"/>
<rect x="844.44" y="628.43" width="24.10" height="74.37" fill="#d1e5f0"/>
<rect x="868.54" y="628.43" width="24.10" height="74.37" fill="#e3e1df"/>
<rect x="892.64" y="628.43" width="24.10" height="74.37" fill="#f4a582"/>
<rect x="916.75" y="628.43" width="24.10" height="74.37" fill="#f4a582"/>
<rect x="940.85" y="628.43" width="24.10" height="74.37" fill="#f9c3a8"/>
<rect x="964.95" y="628.43" width="24.10" height="74.37" fill="#d1e5f0"/>
<rect x="989.05" y="628.43" width="24.10" height="74.37" fill="#fddbc7"/>
<rect x="1013.15" y="628.43" width="24.10" height="74.37" fill="#a31329"/>
<rect x="1037.25" y="628.43" width="24.10" height="74.37" fill="#d1e5f0"/>
<rect x="1061.36" y="628.43" width="24.10" height="74.37" fill="#e3e1df"/>
<rect x="1085.46" y="628.43" width="24.10" height="74.37" fill="#d6604d"/>
<rect x="1109.56" y="628.43" width="24.10" height="74.37" fill="#cf5246"/>
<rect x="1133.66" y="628.43" width="24.10" height="74.37" fill="#e3e1df"/>
<rect x="1157.76" y="628.43" width="24.10" height="74.37" fill="#ee9777"/>
<rect x="1181.86" y="628.43" width="24.10" height="74.37" fill="#d1e5f0"/>
<rect x="1205.97" y="628.43" width="24.10" height="74.37" fill="#e3e1df"/>
<rect x="1230.07" y="628.43" width="24.10" height="74.37" fill="#fddbc7"/>
<rect x="1254.17" y="628.43" width="24.10" height="74.37" fill="#f4a582"/>
<rect x="1278.27" y="628.43" width="24.10" height="74.37" fill="#f2ded1"/>
<rect x="1302.37" y="628.43" width="24.10" height="74.37" fill="#fddbc7"/>
<rect x="1326.47" y="628.43" width="24.10" height="74.37" fill="#f2ded1"/>
<rect x="1350.58" y="628.43" width="24.10" height="74.37" fill="#d1e5f0"/>
<rect x="1374.68" y="628.43" width="24.10" height="74.37" fill="#d1e5f0"/>
<rect x="1398.78" y="628.43" width="24.10" height="74.37" fill="#d1e5f0"/>
<rect x="1422.88" y="628.43" width="24.10" height="74.37" fill="#d1e5f0"/>
<rect x="1446.98" y="628.43" width="24.10" height="74.37" fill="#d1e5f0"/>
<rect x="1471.08" y="628.43" width="24.10" height="74.37" fill="#d1e5f0"/>
<rect x="1495.19" y="628.43" width="24.10" height="74.37" fill="#d1e5f0"/>
<rect x="1519.29" y="628.43" width="24.10" height="74.37" fill="#d1e5f0"/>
<rect x="1543.39" y="628.43" width="24.10" height="74.37" fill="#d1e5f0"/>
<rect x="1567.49" y="628.43" width="24.10" height="74.37" fill="#d1e5f0"/>
<rect x="1591.59" y="628.43" width="24.10" height="74.37" fill="#d1e5f0"/>
<rect x="1615.69" y="628.43" width="24.10" height="74.37" fill="#d1e5f0"/>
<rect x="1639.80" y="628.43" width="24.10" height="74.37" fill="#d1e5f0"/>
<rect x="1663.90" y="628.43" width="24.10" height="74.37" fill="#d1e5f0"/>
<rect x="266.00" y="702.80" width="24.10" height="74.37" fill="#fddbc7"/>
<rect x="290.10" y="702.80" width="24.10" height="74.37" fill="#d1e5f0"/>
<rect x="314.20" y="702.80" width="24.10" height="74.37" fill="#f8dccc"/>
<rect x="338.31" y="702.80" width="24.10" height="74.37" fill="#f8dccc"/>
<rect x="362.41" y="702.80" width="24.10" height="74.37" fill="#f2ded1"/>
<rect x="386.51" y="702.80" width="24.10" height="74.37" fill="#d1e5f0"/>
<rect x="410.61" y="702.80" width="24.10" height="74.37" fill="#d1e5f0"/>
<rect x="434.71" y="702.80" width="24.10" height="74.37" fill="#d1e5f0"/>
<rect x="458.81" y="702.80" width="24.10" height="74.37" fill="#d1e5f0"/>
<rect x="482.92" y="702.80" width="24.10" height="74.37" fill="#d1e5f0"/>
<rect x="507.02" y="702.80" width="24.10" height="74.37" fill="#d1e5f0"/>
<rect x="531.12" y="702.80" width="24.10" height="74.37" fill="#d1e5f0"/>
<rect x="555.22" y="702.80" width="24.10" height="74.37" fill="#d1e5f0"/>
<rect x="579.32" y="702.80" width="24.10" height="74.37" fill="#d1e5f0"/>
<rect x="603.42" y="702.80" width="24.10" height="74.37" fill="#d1e5f0"/>
<rect x="627.53" y="702.80" width="24.10" height="74.37" fill="#d1e5f0"/>
<rect x="651.63" y="702.80" width="24.10" height="74.37" fill="#d1e5f0"/>
<rect x="675.73" y="702.80" width="24.10" height="74.37" fill="#d1e5f0"/>
<rect x="699.83" y="702.80" width="24.10" height="74.37" fill="#d1e5f0"/>
<rect x="723.93" y="702.80" width="24.10" height="74.37" fill="#d1e5f0"/>
<rect x="748.03" y="702.80" width="24.10" height="74.37" fill="#d1e5f0"/>
<rect x="772.14" y="702.80" width="24.10" height="74.37" fill="#d1e5f0"/>
<rect x="796.24" y="702.80" width="24.10" height="74.37" fill="#d1e5f0"/>
<rect x="820.34" y="702.80" width="24.10" height="74.37" fill="#d1e5f0"/>
<rect x="844.44" y="702.80" width="24.10" height="74.37" fill="#d1e5f0"/>
<rect x="868.54" y="702.80" width="24.10" height="74.37" fill="#da6a55"/>
<rect x="892.64" y="702.80" width="24.10" height="74.37" fill="#e3e1df"/>
<rect x="916.75" y="702.80" width="24.10" height="74.37" fill="#ee9777"/>
<rect x="940.85" y="702.80" width="24.10" height="74.37" fill="#dae3e8"/>
<rect x="964.95" y="702.80" width="24.10" height="74.37" fill="#d1e5f0"/>
<rect x="989.05" y="702.80" width="24.10" height="74.37" fill="#dae3e8"/>
<rect x="1013.15" y="702.80" width="24.10" height="74.37" fill="#fddbc7"/>
<rect x="1037.25" y="702.80" width="24.10" height="74.37" fill="#d1e5f0"/>
<rect x="1061.36" y="702.80" width="24.10" height="74.37" fill="#e3e1df"/>
<rect x="1085.46" y="702.80" width="24.10" height="74.37" fill="#e58268"/>
<rect x="1109.56" y="702.80" width="24.10" height="74.37" fill="#f9c3a8"/>
<rect x="1133.66" y="702.80" width="24.10" height="74.37" fill="#fddbc7"/>
<rect x="1157.76" y="702.80" width="24.10" height="74.37" fill="#f4a582"/>
<rect x="1181.86" y="702.80" width="24.10" height="74.37" fill="#d1e5f0"/>
<rect x="1205.97" y="702.80" width="24.10" height="74.37" fill="#fbd0b9"/>
<rect x="1230.07" y="702.80" width="24.10" height="74.37" fill="#dae3e8"/>
<rect x="1254.17" y="702.80" width="24.10" height="74.37" fill="#a31329"/>
<rect x="1278.27" y="702.80" width="24.10" height="74.37" fill="#f9c3a8"/>
<rect x="1302.37" y="702.80" width="24.10" height="74.37" fill="#da6a55"/>
<rect x="1326.47" y="702.80" width="24.10" height="74.37" fill="#e58268"/>
<rect x="1350.58" y="702.80" width="24.10" height="74.37" fill="#d1e5f0"/>
<rect x="1374.68" y="702.80" width="24.10" height="74.37" fill="#d1e5f0"/>
<rect x="1398.78" y="702.80" width="24.10" height="74.37" fill="#d1e5f0"/>
<rect x="1422.88" y="702.80" width="24.10" height="74.37" fill="#d1e5f0"/>
<rect x="1446.98" y="702.80" width="24.10" height="74.37" fill="#d1e5f0"/>
<rect x="1471.08" y="702.80" width="24.10" height="74.37" fill="#d1e5f0"/>
<rect x="1495.19" y="702.80" width="24.10" height="74.37" fill="#d1e5f0"/>
<rect x="1519.29" y="702.80" width="24.10" height="74.37" fill="#d1e5f0"/>
<rect x="1543.39" y="702.80" width="24.10" height="74.37" fill="#d1e5f0"/>
<rect x="1567.49" y="702.80" width="24.10" height="74.37" fill="#d1e5f0"/>
<rect x="1591.59" y="702.80" width="24.10" height="74.37" fill="#d1e5f0"/>
<rect x="1615.69" y="702.80" width="24.10" height="74.37" fill="#d1e5f0"/>
<rect x="1639.80" y="702.80" width="24.10" height="74.37" fill="#d1e5f0"/>
<rect x="1663.90" y="702.80" width="24.10" height="74.37" fill="#d1e5f0"/>
<rect x="266.00" y="777.18" width="24.10" height="74.37" fill="#f2ded1"/>
<rect x="290.10" y="777.18" width="24.10" height="74.37" fill="#d1e5f0"/>
<rect x="314.20" y="777.18" width="24.10" height="74.37" fill="#fddbc7"/>
<rect x="338.31" y="777.18" width="24.10" height="74.37" fill="#d1e5f0"/>
<rect x="362.41" y="777.18" width="24.10" height="74.37" fill="#fbd0b9"/>
<rect x="386.51" y="777.18" width="24.10" height="74.37" fill="#d1e5f0"/>
<rect x="410.61" y="777.18" width="24.10" height="74.37" fill="#d1e5f0"/>
<rect x="434.71" y="777.18" width="24.10" height="74.37" fill="#d1e5f0"/>
<rect x="458.81" y="777.18" width="24.10" height="74.37" fill="#d1e5f0"/>
<rect x="482.92" y="777.18" width="24.10" height="74.37" fill="#d1e5f0"/>
<rect x="507.02" y="777.18" width="24.10" height="74.37" fill="#d1e5f0"/>
<rect x="531.12" y="777.18" width="24.10" height="74.37" fill="#d1e5f0"/>
<rect x="555.22" y="777.18" width="24.10" height="74.37" fill="#d1e5f0"/>
<rect x="579.32" y="777.18" width="24.10" height="74.37" fill="#d1e5f0"/>
<rect x="603.42" y="777.18" width="24.10" height="74.37" fill="#d1e5f0"/>
<rect x="627.53" y="777.18" width="24.10" height="74.37" fill="#d1e5f0"/>
<rect x="651.63" y="777.18" width="24.10" height="74.37" fill="#d1e5f0"/>
<rect x="675.73" y="777.18" width="24.10" height="74.37" fill="#d1e5f0"/>
<rect x="699.83" y="777.18" width="24.10" height="74.37" fill="#d1e5f0"/>
<rect x="723.93" y="777.18" width="24.10" height="74.37" fill="#d1e5f0"/>
<rect x="748.03" y="777.18" width="24.10" height="74.37" fill="#d1e5f0"/>
<rect x="772.14" y="777.18" width="24.10" height="74.37" fill="#d1e5f0"/>
<rect x="796.24" y="777.18" width="24.10" height="74.37" fill="#d1e5f0"/>
<rect x="820.34" y="777.18" width="24.10" height="74.37" fill="#d1e5f0"/>
<rect x="844.44" y="777.18" width="24.10" height="74.37" fill="#d1e5f0"/>
<rect x="868.54" y="777.18" width="24.10" height="74.37" fill="#f9c3a8"/>
<rect x="892.64" y="777.18" width="24.10" height="74.37" fill="#e3e1df"/>
<rect x="916.75" y="777.18" width="24.10" height="74.37" fill="#c94741"/>
<rect x="940.85" y="777.18" width="24.10" height="74.37" fill="#d6604d"/>
<rect x="964.95" y="777.18" width="24.10" height="74.37" fill="#e3e1df"/>
<rect x="989.05" y="777.18" width="24.10" height="74.37" fill="#e3e1df"/>
<rect x="1013.15" y="777.18" width="24.10" height="74.37" fill="#f4a582"/>
<rect x="1037.25" y="777.18" width="24.10" height="74.37" fill="#d1e5f0"/>
<rect x="1061.36" y="777.18" width="24.10" height="74.37" fill="#d1e5f0"/>
<rect x="1085.46" y="777.18" width="24.10" height="74.37" fill="#f9c3a8"/>
<rect x="1109.56" y="777.18" width="24.10" height="74.37" fill="#ee9777"/>
<rect x="1133.66" y="777.18" width="24.10" height="74.37" fill="#d1e5f0"/>
<rect x="1157.76" y="777.18" width="24.10" height="74.37" fill="#da6a55"/>
<rect x="1181.86" y="777.18" width="24.10" height="74.37" fill="#d1e5f0"/>
<rect x="1205.97" y="777.18" width="24.10" height="74.37" fill="#d1e5f0"/>
<rect x="1230.07" y="777.18" width="24.10" height="74.37" fill="#f9c3a8"/>
<rect x="1254.17" y="777.18" width="24.10" height="74.37" fill="#e58268"/>
<rect x="1278.27" y="777.18" width="24.10" height="74.37" fill="#dae3e8"/>
<rect x="1302.37" y="777.18" width="24.10" height="74.37" fill="#f9c3a8"/>
<rect x="1326.47" y="777.18" width="24.10" height="74.37" fill="#c94741"/>
<rect x="1350.58" y="777.18" width="24.10" height="74.37" fill="#d1e5f0"/>
<rect x="1374.68" y="777.18" width="24.10" height="74.37" fill="#d1e5f0"/>
<rect x="1398.78" y="777.18" width="24.10" height="74.37" fill="#d1e5f0"/>
<rect x="1422.88" y="777.18" width="24.10" height="74.37" fill="#d1e5f0"/>
<rect x="1446.98" y="777.18" width="24.10" height="74.37" fill="#d1e5f0"/>
<rect x="1471.08" y="777.18" width="24.10" height="74.37" fill="#d1e5f0"/>
<rect x="1495.19" y="777.18" width="24.10" height="74.37" fill="#d1e5f0"/>
<rect x="1519.29" y="777.18" width="24.10" height="74.37" fill="#d1e5f0"/>
<rect x="1543.39" y="777.18" width="24.10" height="74.37" fill="#d1e5f0"/>
<rect x="1567.49" y="777.18" width="24.10" height="74.37" fill="#d1e5f0"/>
<rect x="1591.59" y="777.18" width="24.10" height="74.37" fill="#d1e5f0"/>
<rect x="1615.69" y="777.18" width="24.10" height="74.37" fill="#d1e5f0"/>
<rect x="1639.80" y="777.18" width="24.10" height="74.37" fill="#d1e5f0"/>
<rect x="1663.90" y="777.18" width="24.10" height="74.37" fill="#d1e5f0"/>
<rect x="266.00" y="851.55" width="24.10" height="74.37" fill="#fbd0b9"/>
<rect x="290.10" y="851.55" width="24.10" height="74.37" fill="#d1e5f0"/>
<rect x="314.20" y="851.55" width="24.10" height="74.37" fill="#fddbc7"/>
<rect x="338.31" y="851.55" width="24.10" height="74.37" fill="#e3e1df"/>
<rect x="362.41" y="851.55" width="24.10" height="74.37" fill="#fddbc7"/>
<rect x="386.51" y="851.55" width="24.10" height="74.37" fill="#d1e5f0"/>
<rect x="410.61" y="851.55" width="24.10" height="74.37" fill="#d1e5f0"/>
<rect x="434.71" y="851.55" width="24.10" height="74.37" fill="#d1e5f0"/>
<rect x="458.81" y="851.55" width="24.10" height="74.37" fill="#d1e5f0"/>
<rect x="482.92" y="851.55" width="24.10" height="74.37" fill="#d1e5f0"/>
<rect x="507.02" y="851.55" width="24.10" height="74.37" fill="#d1e5f0"/>
<rect x="531.12" y="851.55" width="24.10" height="74.37" fill="#d1e5f0"/>
<rect x="555.22" y="851.55" width="24.10" height="74.37" fill="#d1e5f0"/>
<rect x="579.32" y="851.55" width="24.10" height="74.37" fill="#d1e5f0"/>
<rect x="603.42" y="851.55" width="24.10" height="74.37" fill="#d1e5f0"/>
<rect x="627.53" y="851.55" width="24.10" height="74.37" fill="#d1e5f0"/>
<rect x="651.63" y="851.55" width="24.10" height="74.37" fill="#d1e5f0"/>
<rect x="675.73" y="851.55" width="24.10" height="74.37" fill="#d1e5f0"/>
<rect x="699.83" y="851.55" width="24.10" height="74.37" fill="#d1e5f0"/>
<rect x="723.93" y="851.55" width="24.10" height="74.37" fill="#d1e5f0"/>
<rect x="748.03" y="851.55" width="24.10" height="74.37" fill="#d1e5f0"/>
<rect x="772.14" y="851.55" width="24.10" height="74.37" fill="#d1e5f0"/>
<rect x="796.24" y="851.55" width="24.10" height="74.37" fill="#d1e5f0"/>
<rect x="820.34" y="851.55" width="24.10" height="74.37" fill="#d1e5f0"/>
<rect x="844.44" y="851.55" width="24.10" height="74.37" fill="#d1e5f0"/>
<rect x="868.54" y="851.55" width="24.10" height="74.37" fill="#fddbc7"/>
<rect x="892.64" y="851.55" width="24.10" height="74.37" fill="#f2ded1"/>
<rect x="916.75" y="851.55" width="24.10" height="74.37" fill="#f4a582"/>
<rect x="940.85" y="851.55" width="24.10" height="74.37" fill="#f9c3a8"/>
<rect x="964.95" y="851.55" width="24.10" height="74.37" fill="#d1e5f0"/>
<rect x="989.05" y="851.55" width="24.10" height="74.37" fill="#e3e1df"/>
<rect x="1013.15" y="851.55" width="24.10" height="74.37" fill="#ea8d6f"/>
<rect x="1037.25" y="851.55" width="24.10" height="74.37" fill="#d1e5f0"/>
<rect x="1061.36" y="851.55" width="24.10" height="74.37" fill="#f2ded1"/>
<rect x="1085.46" y="851.55" width="24.10" height="74.37" fill="#e58268"/>
<rect x="1109.56" y="851.55" width="24.10" height="74.37" fill="#f2ded1"/>
<rect x="1133.66" y="851.55" width="24.10" height="74.37" fill="#e3e1df"/>
<rect x="1157.76" y="851.55" width="24.10" height="74.37" fill="#c43c3c"/>
<rect x="1181.86" y="851.55" width="24.10" height="74.37" fill="#d1e5f0"/>
<rect x="1205.97" y="851.55" width="24.10" height="74.37" fill="#f2ded1"/>
<rect x="1230.07" y="851.55" width="24.10" height="74.37" fill="#ea8d6f"/>
<rect x="1254.17" y="851.55" width="24.10" height="74.37" fill="#b72330"/>
<rect x="1278.27" y="851.55" width="24.10" height="74.37" fill="#fddbc7"/>
<rect x="1302.37" y="851.55" width="24.10" height="74.37" fill="#fddbc7"/>
<rect x="1326.47" y="851.55" width="24.10" height="74.37" fill="#ea8d6f"/>
<rect x="1350.58" y="851.55" width="24.10" height="74.37" fill="#d1e5f0"/>
<rect x="1374.68" y="851.55" width="24.10" height="74.37" fill="#d1e5f0"/>
<rect x="1398.78" y="851.55" width="24.10" height="74.37" fill="#d1e5f0"/>
<rect x="1422.88" y="851.55" width="24.10" height="74.37" fill="#d1e5f0"/>
<rect x="1446.98" y="851.55" width="24.10" height="74.37" fill="#d1e5f0"/>
<rect x="1471.08" y="851.55" width="24.10" height="74.37" fill="#d1e5f0"/>
<rect x="1495.19" y="851.55" width="24.10" height="74.37" fill="#d1e5f0"/>
<rect x="1519.29" y="851.55" width="24.10" height="74.37" fill="#d1e5f0"/>
<rect x="1543.39" y="851.55" width="24.10" height="74.37" fill="#d1e5f0"/>
<rect x="1567.49" y="851.55" width="24.10" height="74.37" fill="#d1e5f0"/>
<rect x="1591.59" y="851.55" width="24.10" height="74.37" fill="#d1e5f0"/>
<rect x="1615.69" y="851.55" width="24.10" height="74.37" fill="#d1e5f0"/>
<rect x="1639.80" y="851.55" width="24.10" height="74.37" fill="#d1e5f0"/>
<rect x="1663.90" y="851.55" width="24.10" height="74.37" fill="#d1e5f0"/>
<rect x="266.00" y="925.92" width="24.10" height="74.37" fill="#fbd0b9"/>
<rect x="290.10" y="925.92" width="24.10" height="74.37" fill="#d1e5f0"/>
<rect x="314.20" y="925.92" width="24.10" height="74.37" fill="#e3e1df"/>
<rect x="338.31" y="925.92" width="24.10" height="74.37" fill="#e3e1df"/>
<rect x="362.41" y="925.92" width="24.10" height="74.37" fill="#e3e1df"/>
<rect x="386.51" y="925.92" width="24.10" height="74.37" fill="#d1e5f0"/>
<rect x="410.61" y="925.92" width="24.10" height="74.37" fill="#d1e5f0"/>
<rect x="434.71" y="925.92" width="24.10" height="74.37" fill="#d1e5f0"/>
<rect x="458.81" y="925.92" width="24.10" height="74.37" fill="#d1e5f0"/>
<rect x="482.92" y="925.92" width="24.10" height="74.37" fill="#d1e5f0"/>
<rect x="507.02" y="925.92" width="24.10" height="74.37" fill="#d1e5f0"/>
<rect x="531.12" y="925.92" width="24.10" height="74.37" fill="#d1e5f0"/>
<rect x="555.22" y="925.92" width="24.10" height="74.37" fill="#f2ded1"/>
<rect x="579.32" y="925.92" width="24.10" height="74.37" fill="#d1e5f0"/>
<rect x="603.42" y="925.92" width="24.10" height="74.37" fill="#d1e5f0"/>
<rect x="627.53" y="925.92" width="24.10" height="74.37" fill="#d1e5f0"/>
<rect x="651.63" y="925.92" width="24.10" height="74.37" fill="#d1e5f0"/>
<rect x="675.73" y="925.92" width="24.10" height="74.37" fill="#d1e5f0"/>
<rect x="699.83" y="925.92" width="24.10" height="74.37" fill="#f8dccc"/>
<rect x="723.93" y="925.92" width="24.10" height="74.37" fill="#f2ded1"/>
<rect x="748.03" y="925.92" width="24.10" height="74.37" fill="#d1e5f0"/>
<rect x="772.14" y="925.92" width="24.10" height="74.37" fill="#d1e5f0"/>
<rect x="796.24" y="925.92" width="24.10" height="74.37" fill="#d1e5f0"/>
<rect x="820.34" y="925.92" width="24.10" height="74.37" fill="#d1e5f0"/>
<rect x="844.44" y="925.92" width="24.10" height="74.37" fill="#d1e5f0"/>
<rect x="868.54" y="925.92" width="24.10" height="74.37" fill="#fddbc7"/>
<rect x="892.64" y="925.92" width="24.10" height="74.37" fill="#f2ded1"/>
<rect x="916.75" y="925.92" width="24.10" height="74.37" fill="#e3e1df"/>
<rect x="940.85" y="925.92" width="24.10" height="74.37" fill="#f9c3a8"/>
<rect x="964.95" y="925.92" width="24.10" height="74.37" fill="#cf5246"/>
<rect x="989.05" y="925.92" width="24.10" height="74.37" fill="#e3e1df"/>
<rect x="1013.15" y="925.92" width="24.10" height="74.37" fill="#d1e5f0"/>
<rect x="1037.25" y="925.92" width="24.10" height="74.37" fill="#f2ded1"/>
<rect x="1061.36" y="925.92" width="24.10" height="74.37" fill="#f9c3a8"/>
<rect x="1085.46" y="925.92" width="24.10" height="74.37" fill="#e3e1df"/>
<rect x="1109.56" y="925.92" width="24.10" height="74.37" fill="#e3e1df"/>
<rect x="1133.66" y="925.92" width="24.10" height="74.37" fill="#ee9777"/>
<rect x="1157.76" y="925.92" width="24.10" height="74.37" fill="#d1e5f0"/>
<rect x="1181.86" y="925.92" width="24.10" height="74.37" fill="#e3e1df"/>
<rect x="1205.97" y="925.92" width="24.10" height="74.37" fill="#d1e5f0"/>
<rect x="1230.07" y="925.92" width="24.10" height="74.37" fill="#e3e1df"/>
<rect x="1254.17" y="925.92" width="24.10" height="74.37" fill="#d1e5f0"/>
<rect x="1278.27" y="925.92" width="24.10" height="74.37" fill="#fddbc7"/>
<rect x="1302.37" y="925.92" width="24.10" height="74.37" fill="#d1e5f0"/>
<rect x="1326.47" y="925.92" width="24.10" height="74.37" fill="#e3e1df"/>
<rect x="1350.58" y="925.92" width="24.10" height="74.37" fill="#d1e5f0"/>
<rect x="1374.68" y="925.92" width="24.10" height="74.37" fill="#e3e1df"/>
<rect x="1398.78" y="925.92" width="24.10" height="74.37" fill="#d1e5f0"/>
<rect x="1422.88" y="925.92" width="24.10" height="74.37" fill="#ee9777"/>
<rect x="1446.98" y="925.92" width="24.10" height="74.37" fill="#ea8d6f"/>
<rect x="1471.08" y="925.92" width="24.10" height="74.37" fill="#fddbc7"/>
<rect x="1495.19" y="925.92" width="24.10" height="74.37" fill="#d1e5f0"/>
<rect x="1519.29" y="925.92" width="24.10" height="74.37" fill="#d1e5f0"/>
<rect x="1543.39" y="925.92" width="24.10" height="74.37" fill="#67001f"/>
<rect x="1567.49" y="925.92" width="24.10" height="74.37" fill="#d1e5f0"/>
<rect x="1591.59" y="925.92" width="24.10" height="74.37" fill="#d1e5f0"/>
<rect x="1615.69" y="925.92" width="24.10" height="74.37" fill="#f9c3a8"/>
<rect x="1639.80" y="925.92" width="24.10" height="74.37" fill="#e3e1df"/>
<rect x="1663.90" y="925.92" width="24.10" height="74.37" fill="#f2ded1"/>
<rect x="266.00" y="1000.29" width="24.10" height="74.37" fill="#ee9777"/>
<rect x="290.10" y="1000.29" width="24.10" height="74.37" fill="#cbe2ee"/>
<rect x="314.20" y="1000.29" width="24.10" height="74.37" fill="#ea8d6f"/>
<rect x="338.31" y="1000.29" width="24.10" height="74.37" fill="#fddbc7"/>
<rect x="362.41" y="1000.29" width="24.10" height="74.37" fill="#f9c3a8"/>
<rect x="386.51" y="1000.29" width="24.10" height="74.37" fill="#cbe2ee"/>
<rect x="410.61" y="1000.29" width="24.10" height="74.37" fill="#cbe2ee"/>
<rect x="434.71" y="1000.29" width="24.10" height="74.37" fill="#cbe2ee"/>
<rect x="458.81" y="1000.29" width="24.10" height="74.37" fill="#cbe2ee"/>
<rect x="482.92" y="1000.29" width="24.10" height="74.37" fill="#cbe2ee"/>
<rect x="507.02" y="1000.29" width="24.10" height="74.37" fill="#cbe2ee"/>
<rect x="531.12" y="1000.29" width="24.10" height="74.37" fill="#cbe2ee"/>
<rect x="555.22" y="1000.29" width="24.10" height="74.37" fill="#cbe2ee"/>
<rect x="579.32" y="1000.29" width="24.10" height="74.37" fill="#cbe2ee"/>
<rect x="603.42" y="1000.29" width="24.10" height="74.37" fill="#cbe2ee"/>
<rect x="627.53" y="1000.29" width="24.10" height="74.37" fill="#cbe2ee"/>
<rect x="651.63" y="1000.29" width="24.10" height="74.37" fill="#cbe2ee"/>
<rect x="675.73" y="1000.29" width="24.10" height="74.37" fill="#cbe2ee"/>
<rect x="699.83" y="1000.29" width="24.10" height="74.37" fill="#cbe2ee"/>
<rect x="723.93" y="1000.29" width="24.10" height="74.37" fill="#cbe2ee"/>
<rect x="748.03" y="1000.29" width="24.10" height="74.37" fill="#cbe2ee"/>
<rect x="772.14" y="1000.29" width="24.10" height="74.37" fill="#cbe2ee"/>
<rect x="796.24" y="1000.29" width="24.10" height="74.37" fill="#cbe2ee"/>
<rect x="820.34" y="1000.29" width="24.10" height="74.37" fill="#cbe2ee"/>
<rect x="844.44" y="1000.29" width="24.10" height="74.37" fill="#cbe2ee"/>
<rect x="868.54" y="1000.29" width="24.10" height="74.37" fill="#f9c3a8"/>
<rect x="892.64" y="1000.29" width="24.10" height="74.37" fill="#f9c3a8"/>
<rect x="916.75" y="1000.29" width="24.10" height="74.37" fill="#f4a582"/>
<rect x="940.85" y="1000.29" width="24.10" height="74.37" fill="#f9c3a8"/>
<rect x="964.95" y="1000.29" width="24.10" height="74.37" fill="#fddbc7"/>
<rect x="989.05" y="1000.29" width="24.10" height="74.37" fill="#f7b597"/>
<rect x="1013.15" y="1000.29" width="24.10" height="74.37" fill="#ee9777"/>
<rect x="1037.25" y="1000.29" width="24.10" height="74.37" fill="#cbe2ee"/>
<rect x="1061.36" y="1000.29" width="24.10" height="74.37" fill="#f8dccc"/>
<rect x="1085.46" y="1000.29" width="24.10" height="74.37" fill="#fbd0b9"/>
<rect x="1109.56" y="1000.29" width="24.10" height="74.37" fill="#f5ad8c"/>
<rect x="1133.66" y="1000.29" width="24.10" height="74.37" fill="#fbd0b9"/>
<rect x="1157.76" y="1000.29" width="24.10" height="74.37" fill="#fbd0b9"/>
<rect x="1181.86" y="1000.29" width="24.10" height="74.37" fill="#cbe2ee"/>
<rect x="1205.97" y="1000.29" width="24.10" height="74.37" fill="#f9c3a8"/>
<rect x="1230.07" y="1000.29" width="24.10" height="74.37" fill="#fbd0b9"/>
<rect x="1254.17" y="1000.29" width="24.10" height="74.37" fill="#cf5246"/>
<rect x="1278.27" y="1000.29" width="24.10" height="74.37" fill="#f9c3a8"/>
<rect x="1302.37" y="1000.29" width="24.10" height="74.37" fill="#f9c3a8"/>
<rect x="1326.47" y="1000.29" width="24.10" height="74.37" fill="#f4a582"/>
<rect x="1350.58" y="1000.29" width="24.10" height="74.37" fill="#cbe2ee"/>
<rect x="1374.68" y="1000.29" width="24.10" height="74.37" fill="#cbe2ee"/>
<rect x="1398.78" y="1000.29" width="24.10" height="74.37" fill="#cbe2ee"/>
<rect x="1422.88" y="1000.29" width="24.10" height="74.37" fill="#cbe2ee"/>
<rect x="1446.98" y="1000.29" width="24.10" height="74.37" fill="#cbe2ee"/>
<rect x="1471.08" y="1000.29" width="24.10" height="74.37" fill="#cbe2ee"/>
<rect x="1495.19" y="1000.29" width="24.10" height="74.37" fill="#cbe2ee"/>
<rect x="1519.29" y="1000.29" width="24.10" height="74.37" fill="#cbe2ee"/>
<rect x="1543.39" y="1000.29" width="24.10" height="74.37" fill="#cbe2ee"/>
<rect x="1567.49" y="1000.29" width="24.10" height="74.37" fill="#cbe2ee"/>
<rect x="1591.59" y="1000.29" width="24.10" height="74.37" fill="#cbe2ee"/>
<rect x="1615.69" y="1000.29" width="24.10" height="74.37" fill="#cbe2ee"/>
<rect x="1639.80" y="1000.29" width="24.10" height="74.37" fill="#cbe2ee"/>
<rect x="1663.90" y="1000.29" width="24.10" height="74.37" fill="#cbe2ee"/>
<rect x="266.00" y="1074.66" width="24.10" height="74.37" fill="#fbd0b9"/>
<rect x="290.10" y="1074.66" width="24.10" height="74.37" fill="#dae3e8"/>
<rect x="314.20" y="1074.66" width="24.10" height="74.37" fill="#fbd0b9"/>
<rect x="338.31" y="1074.66" width="24.10" height="74.37" fill="#f7b597"/>
<rect x="362.41" y="1074.66" width="24.10" height="74.37" fill="#fbd0b9"/>
<rect x="386.51" y="1074.66" width="24.10" height="74.37" fill="#cbe2ee"/>
<rect x="410.61" y="1074.66" width="24.10" height="74.37" fill="#cbe2ee"/>
<rect x="434.71" y="1074.66" width="24.10" height="74.37" fill="#cbe2ee"/>
<rect x="458.81" y="1074.66" width="24.10" height="74.37" fill="#cbe2ee"/>
<rect x="482.92" y="1074.66" width="24.10" height="74.37" fill="#cbe2ee"/>
<rect x="507.02" y="1074.66" width="24.10" height="74.37" fill="#cbe2ee"/>
<rect x="531.12" y="1074.66" width="24.10" height="74.37" fill="#cbe2ee"/>
<rect x="555.22" y="1074.66" width="24.10" height="74.37" fill="#cbe2ee"/>
<rect x="579.32" y="1074.66" width="24.10" height="74.37" fill="#cbe2ee"/>
<rect x="603.42" y="1074.66" width="24.10" height="74.37" fill="#cbe2ee"/>
<rect x="627.53" y="1074.66" width="24.10" height="74.37" fill="#cbe2ee"/>
<rect x="651.63" y="1074.66" width="24.10" height="74.37" fill="#cbe2ee"/>
<rect x="675.73" y="1074.66" width="24.10" height="74.37" fill="#cbe2ee"/>
<rect x="699.83" y="1074.66" width="24.10" height="74.37" fill="#cbe2ee"/>
<rect x="723.93" y="1074.66" width="24.10" height="74.37" fill="#cbe2ee"/>
<rect x="748.03" y="1074.66" width="24.10" height="74.37" fill="#cbe2ee"/>
<rect x="772.14" y="1074.66" width="24.10" height="74.37" fill="#cbe2ee"/>
<rect x="796.24" y="1074.66" width="24.10" height="74.37" fill="#cbe2ee"/>
<rect x="820.34" y="1074.66" width="24.10" height="74.37" fill="#cbe2ee"/>
<rect x="844.44" y="1074.66" width="24.10" height="74.37" fill="#cbe2ee"/>
<rect x="868.54" y="1074.66" width="24.10" height="74.37" fill="#fddbc7"/>
<rect x="892.64" y="1074.66" width="24.10" height="74.37" fill="#e58268"/>
<rect x="916.75" y="1074.66" width="24.10" height="74.37" fill="#fddbc7"/>
<rect x="940.85" y="1074.66" width="24.10" height="74.37" fill="#de715a"/>
<rect x="964.95" y="1074.66" width="24.10" height="74.37" fill="#ee9777"/>
<rect x="989.05" y="1074.66" width="24.10" height="74.37" fill="#fddbc7"/>
<rect x="1013.15" y="1074.66" width="24.10" height="74.37" fill="#ea8d6f"/>
<rect x="1037.25" y="1074.66" width="24.10" height="74.37" fill="#cbe2ee"/>
<rect x="1061.36" y="1074.66" width="24.10" height="74.37" fill="#f7b597"/>
<rect x="1085.46" y="1074.66" width="24.10" height="74.37" fill="#f9c3a8"/>
<rect x="1109.56" y="1074.66" width="24.10" height="74.37" fill="#fbd0b9"/>
<rect x="1133.66" y="1074.66" width="24.10" height="74.37" fill="#ee9777"/>
<rect x="1157.76" y="1074.66" width="24.10" height="74.37" fill="#f9c3a8"/>
<rect x="1181.86" y="1074.66" width="24.10" height="74.37" fill="#cbe2ee"/>
<rect x="1205.97" y="1074.66" width="24.10" height="74.37" fill="#f4a582"/>
<rect x="1230.07" y="1074.66" width="24.10" height="74.37" fill="#f9c3a8"/>
<rect x="1254.17" y="1074.66" width="24.10" height="74.37" fill="#f9c3a8"/>
<rect x="1278.27" y="1074.66" width="24.10" height="74.37" fill="#f5ad8c"/>
<rect x="1302.37" y="1074.66" width="24.10" height="74.37" fill="#f9c3a8"/>
<rect x="1326.47" y="1074.66" width="24.10" height="74.37" fill="#fbd0b9"/>
<rect x="1350.58" y="1074.66" width="24.10" height="74.37" fill="#cbe2ee"/>
<rect x="1374.68" y="1074.66" width="24.10" height="74.37" fill="#cbe2ee"/>
<rect x="1398.78" y="1074.66" width="24.10" height="74.37" fill="#cbe2ee"/>
<rect x="1422.88" y="1074.66" width="24.10" height="74.37" fill="#cbe2ee"/>
<rect x="1446.98" y="1074.66" width="24.10" height="74.37" fill="#cbe2ee"/>
<rect x="1471.08" y="1074.66" width="24.10" height="74.37" fill="#cbe2ee"/>
<rect x="1495.19" y="1074.66" width="24.10" height="74.37" fill="#cbe2ee"/>
<rect x="1519.29" y="1074.66" width="24.10" height="74.37" fill="#cbe2ee"/>
<rect x="1543.39" y="1074.66" width="24.10" height="74.37" fill="#cbe2ee"/>
<rect x="1567.49" y="1074.66" width="24.10" height="74.37" fill="#cbe2ee"/>
<rect x="1591.59" y="1074.66" width="24.10" height="74.37" fill="#cbe2ee"/>
<rect x="1615.69" y="1074.66" width="24.10" height="74.37" fill="#cbe2ee"/>
<rect x="1639.80" y="1074.66" width="24.10" height="74.37" fill="#cbe2ee"/>
<rect x="1663.90" y="1074.66" width="24.10" height="74.37" fill="#cbe2ee"/>
<rect x="266.00" y="1149.04" width="24.10" height="74.37" fill="#fbd0b9"/>
<rect x="290.10" y="1149.04" width="24.10" height="74.37" fill="#dae3e8"/>
<rect x="314.20" y="1149.04" width="24.10" height="74.37" fill="#f9c3a8"/>
<rect x="338.31" y="1149.04" width="24.10" height="74.37" fill="#f5ad8c"/>
<rect x="362.41" y="1149.04" width="24.10" height="74.37" fill="#f9c3a8"/>
<rect x="386.51" y="1149.04" width="24.10" height="74.37" fill="#cbe2ee"/>
<rect x="410.61" y="1149.04" width="24.10" height="74.37" fill="#cbe2ee"/>
<rect x="434.71" y="1149.04" width="24.10" height="74.37" fill="#cbe2ee"/>
<rect x="458.81" y="1149.04" width="24.10" height="74.37" fill="#cbe2ee"/>
<rect x="482.92" y="1149.04" width="24.10" height="74.37" fill="#cbe2ee"/>
<rect x="507.02" y="1149.04" width="24.10" height="74.37" fill="#cbe2ee"/>
<rect x="531.12" y="1149.04" width="24.10" height="74.37" fill="#cbe2ee"/>
<rect x="555.22" y="1149.04" width="24.10" height="74.37" fill="#cbe2ee"/>
<rect x="579.32" y="1149.04" width="24.10" height="74.37" fill="#cbe2ee"/>
<rect x="603.42" y="1149.04" width="24.10" height="74.37" fill="#cbe2ee"/>
<rect x="627.53" y="1149.04" width="24.10" height="74.37" fill="#cbe2ee"/>
<rect x="651.63" y="1149.04" width="24.10" height="74.37" fill="#cbe2ee"/>
<rect x="675.73" y="1149.04" width="24.10" height="74.37" fill="#cbe2ee"/>
<rect x="699.83" y="1149.04" width="24.10" height="74.37" fill="#cbe2ee"/>
<rect x="723.93" y="1149.04" width="24.10" height="74.37" fill="#cbe2ee"/>
<rect x="748.03" y="1149.04" width="24.10" height="74.37" fill="#cbe2ee"/>
<rect x="772.14" y="1149.04" width="24.10" height="74.37" fill="#cbe2ee"/>
<rect x="796.24" y="1149.04" width="24.10" height="74.37" fill="#cbe2ee"/>
<rect x="820.34" y="1149.04" width="24.10" height="74.37" fill="#cbe2ee"/>
<rect x="844.44" y="1149.04" width="24.10" height="74.37" fill="#cbe2ee"/>
<rect x="868.54" y="1149.04" width="24.10" height="74.37" fill="#fddbc7"/>
<rect x="892.64" y="1149.04" width="24.10" height="74.37" fill="#e58268"/>
<rect x="916.75" y="1149.04" width="24.10" height="74.37" fill="#fddbc7"/>
<rect x="940.85" y="1149.04" width="24.10" height="74.37" fill="#de715a"/>
<rect x="964.95" y="1149.04" width="24.10" height="74.37" fill="#cbe2ee"/>
<rect x="989.05" y="1149.04" width="24.10" height="74.37" fill="#fddbc7"/>
<rect x="1013.15" y="1149.04" width="24.10" height="74.37" fill="#e58268"/>
<rect x="1037.25" y="1149.04" width="24.10" height="74.37" fill="#cbe2ee"/>
<rect x="1061.36" y="1149.04" width="24.10" height="74.37" fill="#f7b597"/>
<rect x="1085.46" y="1149.04" width="24.10" height="74.37" fill="#f7b597"/>
<rect x="1109.56" y="1149.04" width="24.10" height="74.37" fill="#f9c3a8"/>
<rect x="1133.66" y="1149.04" width="24.10" height="74.37" fill="#ee9777"/>
<rect x="1157.76" y="1149.04" width="24.10" height="74.37" fill="#f9c3a8"/>
<rect x="1181.86" y="1149.04" width="24.10" height="74.37" fill="#cbe2ee"/>
<rect x="1205.97" y="1149.04" width="24.10" height="74.37" fill="#f4a582"/>
<rect x="1230.07" y="1149.04" width="24.10" height="74.37" fill="#f9c3a8"/>
<rect x="1254.17" y="1149.04" width="24.10" height="74.37" fill="#f7b597"/>
<rect x="1278.27" y="1149.04" width="24.10" height="74.37" fill="#f5ad8c"/>
<rect x="1302.37" y="1149.04" width="24.10" height="74.37" fill="#f9c3a8"/>
<rect x="1326.47" y="1149.04" width="24.10" height="74.37" fill="#fbd0b9"/>
<rect x="1350.58" y="1149.04" width="24.10" height="74.37" fill="#cbe2ee"/>
<rect x="1374.68" y="1149.04" width="24.10" height="74.37" fill="#cbe2ee"/>
<rect x="1398.78" y="1149.04" width="24.10" height="74.37" fill="#cbe2ee"/>
<rect x="1422.88" y="1149.04" width="24.10" height="74.37" fill="#cbe2ee"/>
<rect x="1446.98" y="1149.04" width="24.10" height="74.37" fill="#cbe2ee"/>
<rect x="1471.08" y="1149.04" width="24.10" height="74.37" fill="#cbe2ee"/>
<rect x="1495.19" y="1149.04" width="24.10" height="74.37" fill="#cbe2ee"/>
<rect x="1519.29" y="1149.04" width="24.10" height="74.37" fill="#cbe2ee"/>
<rect x="1543.39" y="1149.04" width="24.10" height="74.37" fill="#cbe2ee"/>
<rect x="1567.49" y="1149.04" width="24.10" height="74.37" fill="#cbe2ee"/>
<rect x="1591.59" y="1149.04" width="24.10" height="74.37" fill="#cbe2ee"/>
<rect x="1615.69" y="1149.04" width="24.10" height="74.37" fill="#cbe2ee"/>
<rect x="1639.80" y="1149.04" width="24.10" height="74.37" fill="#cbe2ee"/>
<rect x="1663.90" y="1149.04" width="24.10" height="74.37" fill="#cbe2ee"/>
<rect x="266.00" y="1223.41" width="24.10" height="74.37" fill="#d1e5f0"/>
<rect x="290.10" y="1223.41" width="24.10" height="74.37" fill="#f2ded1"/>
<rect x="314.20" y="1223.41" width="24.10" height="74.37" fill="#ee9777"/>
<rect x="338.31" y="1223.41" width="24.10" height="74.37" fill="#f9c3a8"/>
<rect x="362.41" y="1223.41" width="24.10" height="74.37" fill="#d1e5f0"/>
<rect x="386.51" y="1223.41" width="24.10" height="74.37" fill="#d1e5f0"/>
<rect x="410.61" y="1223.41" width="24.10" height="74.37" fill="#d1e5f0"/>
<rect x="434.71" y="1223.41" width="24.10" height="74.37" fill="#d1e5f0"/>
<rect x="458.81" y="1223.41" width="24.10" height="74.37" fill="#d1e5f0"/>
<rect x="482.92" y="1223.41" width="24.10" height="74.37" fill="#d1e5f0"/>
<rect x="507.02" y="1223.41" width="24.10" height="74.37" fill="#d1e5f0"/>
<rect x="531.12" y="1223.41" width="24.10" height="74.37" fill="#d1e5f0"/>
<rect x="555.22" y="1223.41" width="24.10" height="74.37" fill="#d1e5f0"/>
<rect x="579.32" y="1223.41" width="24.10" height="74.37" fill="#d1e5f0"/>
<rect x="603.42" y="1223.41" width="24.10" height="74.37" fill="#d1e5f0"/>
<rect x="627.53" y="1223.41" width="24.10" height="74.37" fill="#d1e5f0"/>
<rect x="651.63" y="1223.41" width="24.10" height="74.37" fill="#d1e5f0"/>
<rect x="675.73" y="1223.41" width="24.10" height="74.37" fill="#d1e5f0"/>
<rect x="699.83" y="1223.41" width="24.10" height="74.37" fill="#d1e5f0"/>
<rect x="723.93" y="1223.41" width="24.10" height="74.37" fill="#d1e5f0"/>
<rect x="748.03" y="1223.41" width="24.10" height="74.37" fill="#d1e5f0"/>
<rect x="772.14" y="1223.41" width="24.10" height="74.37" fill="#d1e5f0"/>
<rect x="796.24" y="1223.41" width="24.10" height="74.37" fill="#d1e5f0"/>
<rect x="820.34" y="1223.41" width="24.10" height="74.37" fill="#d1e5f0"/>
<rect x="844.44" y="1223.41" width="24.10" height="74.37" fill="#d1e5f0"/>
<rect x="868.54" y="1223.41" width="24.10" height="74.37" fill="#fddbc7"/>
<rect x="892.64" y="1223.41" width="24.10" height="74.37" fill="#d6604d"/>
<rect x="916.75" y="1223.41" width="24.10" height="74.37" fill="#f9c3a8"/>
<rect x="940.85" y="1223.41" width="24.10" height="74.37" fill="#f7b597"/>
<rect x="964.95" y="1223.41" width="24.10" height="74.37" fill="#ee9777"/>
<rect x="989.05" y="1223.41" width="24.10" height="74.37" fill="#e3e1df"/>
<rect x="1013.15" y="1223.41" width="24.10" height="74.37" fill="#d1e5f0"/>
<rect x="1037.25" y="1223.41" width="24.10" height="74.37" fill="#f9c3a8"/>
<rect x="1061.36" y="1223.41" width="24.10" height="74.37" fill="#cf5246"/>
<rect x="1085.46" y="1223.41" width="24.10" height="74.37" fill="#e58268"/>
<rect x="1109.56" y="1223.41" width="24.10" height="74.37" fill="#f2ded1"/>
<rect x="1133.66" y="1223.41" width="24.10" height="74.37" fill="#f9c3a8"/>
<rect x="1157.76" y="1223.41" width="24.10" height="74.37" fill="#d1e5f0"/>
<rect x="1181.86" y="1223.41" width="24.10" height="74.37" fill="#fddbc7"/>
<rect x="1205.97" y="1223.41" width="24.10" height="74.37" fill="#f7b597"/>
<rect x="1230.07" y="1223.41" width="24.10" height="74.37" fill="#d1e5f0"/>
<rect x="1254.17" y="1223.41" width="24.10" height="74.37" fill="#d6604d"/>
<rect x="1278.27" y="1223.41" width="24.10" height="74.37" fill="#f9c3a8"/>
<rect x="1302.37" y="1223.41" width="24.10" height="74.37" fill="#f2ded1"/>
<rect x="1326.47" y="1223.41" width="24.10" height="74.37" fill="#d1e5f0"/>
<rect x="1350.58" y="1223.41" width="24.10" height="74.37" fill="#d1e5f0"/>
<rect x="1374.68" y="1223.41" width="24.10" height="74.37" fill="#d1e5f0"/>
<rect x="1398.78" y="1223.41" width="24.10" height="74.37" fill="#d1e5f0"/>
<rect x="1422.88" y="1223.41" width="24.10" height="74.37" fill="#d1e5f0"/>
<rect x="1446.98" y="1223.41" width="24.10" height="74.37" fill="#d1e5f0"/>
<rect x="1471.08" y="1223.41" width="24.10" height="74.37" fill="#d1e5f0"/>
<rect x="1495.19" y="1223.41" width="24.10" height="74.37" fill="#d1e5f0"/>
<rect x="1519.29" y="1223.41" width="24.10" height="74.37" fill="#d1e5f0"/>
<rect x="1543.39" y="1223.41" width="24.10" height="74.37" fill="#d1e5f0"/>
<rect x="1567.49" y="1223.41" width="24.10" height="74.37" fill="#d1e5f0"/>
<rect x="1591.59" y="1223.41" width="24.10" height="74.37" fill="#d1e5f0"/>
<rect x="1615.69" y="1223.41" width="24.10" height="74.37" fill="#d1e5f0"/>
<rect x="1639.80" y="1223.41" width="24.10" height="74.37" fill="#d1e5f0"/>
<rect x="1663.90" y="1223.41" width="24.10" height="74.37" fill="#d1e5f0"/>
<rect x="266.00" y="1297.78" width="24.10" height="74.37" fill="#d5e4ec"/>
<rect x="290.10" y="1297.78" width="24.10" height="74.37" fill="#d5e4ec"/>
<rect x="314.20" y="1297.78" width="24.10" height="74.37" fill="#f9c3a8"/>
<rect x="338.31" y="1297.78" width="24.10" height="74.37" fill="#d1e5f0"/>
<rect x="362.41" y="1297.78" width="24.10" height="74.37" fill="#d1e5f0"/>
<rect x="386.51" y="1297.78" width="24.10" height="74.37" fill="#d1e5f0"/>
<rect x="410.61" y="1297.78" width="24.10" height="74.37" fill="#d1e5f0"/>
<rect x="434.71" y="1297.78" width="24.10" height="74.37" fill="#d1e5f0"/>
<rect x="458.81" y="1297.78" width="24.10" height="74.37" fill="#d1e5f0"/>
<rect x="482.92" y="1297.78" width="24.10" height="74.37" fill="#d1e5f0"/>
<rect x="507.02" y="1297.78" width="24.10" height="74.37" fill="#d1e5f0"/>
<rect x="531.12" y="1297.78" width="24.10" height="74.37" fill="#d1e5f0"/>
<rect x="555.22" y="1297.78" width="24.10" height="74.37" fill="#d1e5f0"/>
<rect x="579.32" y="1297.78" width="24.10" height="74.37" fill="#d1e5f0"/>
<rect x="603.42" y="1297.78" width="24.10" height="74.37" fill="#d1e5f0"/>
<rect x="627.53" y="1297.78" width="24.10" height="74.37" fill="#d1e5f0"/>
<rect x="651.63" y="1297.78" width="24.10" height="74.37" fill="#d1e5f0"/>
<rect x="675.73" y="1297.78" width="24.10" height="74.37" fill="#d1e5f0"/>
<rect x="699.83" y="1297.78" width="24.10" height="74.37" fill="#d1e5f0"/>
<rect x="723.93" y="1297.78" width="24.10" height="74.37" fill="#d1e5f0"/>
<rect x="748.03" y="1297.78" width="24.10" height="74.37" fill="#d1e5f0"/>
<rect x="772.14" y="1297.78" width="24.10" height="74.37" fill="#d1e5f0"/>
<rect x="796.24" y="1297.78" width="24.10" height="74.37" fill="#d1e5f0"/>
<rect x="820.34" y="1297.78" width="24.10" height="74.37" fill="#d1e5f0"/>
<rect x="844.44" y="1297.78" width="24.10" height="74.37" fill="#d1e5f0"/>
<rect x="868.54" y="1297.78" width="24.10" height="74.37" fill="#f8dccc"/>
<rect x="892.64" y="1297.78" width="24.10" height="74.37" fill="#a31329"/>
<rect x="916.75" y="1297.78" width="24.10" height="74.37" fill="#f8dccc"/>
<rect x="940.85" y="1297.78" width="24.10" height="74.37" fill="#fddbc7"/>
<rect x="964.95" y="1297.78" width="24.10" height="74.37" fill="#d1e5f0"/>
<rect x="989.05" y="1297.78" width="24.10" height="74.37" fill="#fddbc7"/>
<rect x="1013.15" y="1297.78" width="24.10" height="74.37" fill="#c94741"/>
<rect x="1037.25" y="1297.78" width="24.10" height="74.37" fill="#dae3e8"/>
<rect x="1061.36" y="1297.78" width="24.10" height="74.37" fill="#f7b597"/>
<rect x="1085.46" y="1297.78" width="24.10" height="74.37" fill="#d1e5f0"/>
<rect x="1109.56" y="1297.78" width="24.10" height="74.37" fill="#d1e5f0"/>
<rect x="1133.66" y="1297.78" width="24.10" height="74.37" fill="#f7b597"/>
<rect x="1157.76" y="1297.78" width="24.10" height="74.37" fill="#d1e5f0"/>
<rect x="1181.86" y="1297.78" width="24.10" height="74.37" fill="#d1e5f0"/>
<rect x="1205.97" y="1297.78" width="24.10" height="74.37" fill="#c94741"/>
<rect x="1230.07" y="1297.78" width="24.10" height="74.37" fill="#f8dccc"/>
<rect x="1254.17" y="1297.78" width="24.10" height="74.37" fill="#f7b597"/>
<rect x="1278.27" y="1297.78" width="24.10" height="74.37" fill="#ee9777"/>
<rect x="1302.37" y="1297.78" width="24.10" height="74.37" fill="#fddbc7"/>
<rect x="1326.47" y="1297.78" width="24.10" height="74.37" fill="#f5ad8c"/>
<rect x="1350.58" y="1297.78" width="24.10" height="74.37" fill="#d1e5f0"/>
<rect x="1374.68" y="1297.78" width="24.10" height="74.37" fill="#d1e5f0"/>
<rect x="1398.78" y="1297.78" width="24.10" height="74.37" fill="#d1e5f0"/>
<rect x="1422.88" y="1297.78" width="24.10" height="74.37" fill="#d1e5f0"/>
<rect x="1446.98" y="1297.78" width="24.10" height="74.37" fill="#d1e5f0"/>
<rect x="1471.08" y="1297.78" width="24.10" height="74.37" fill="#d1e5f0"/>
<rect x="1495.19" y="1297.78" width="24.10" height="74.37" fill="#d1e5f0"/>
<rect x="1519.29" y="1297.78" width="24.10" height="74.37" fill="#d1e5f0"/>
<rect x="1543.39" y="1297.78" width="24.10" height="74.37" fill="#d1e5f0"/>
<rect x="1567.49" y="1297.78" width="24.10" height="74.37" fill="#d1e5f0"/>
<rect x="1591.59" y="1297.78" width="24.10" height="74.37" fill="#d1e5f0"/>
<rect x="1615.69" y="1297.78" width="24.10" height="74.37" fill="#d1e5f0"/>
<rect x="1639.80" y="1297.78" width="24.10" height="74.37" fill="#d1e5f0"/>
<rect x="1663.90" y="1297.78" width="24.10" height="74.37" fill="#d1e5f0"/>
<rect x="266.00" y="1372.15" width="24.10" height="74.37" fill="#fddbc7"/>
<rect x="290.10" y="1372.15" width="24.10" height="74.37" fill="#d1e5f0"/>
<rect x="314.20" y="1372.15" width="24.10" height="74.37" fill="#f2ded1"/>
<rect x="338.31" y="1372.15" width="24.10" height="74.37" fill="#ee9777"/>
<rect x="362.41" y="1372.15" width="24.10" height="74.37" fill="#d1e5f0"/>
<rect x="386.51" y="1372.15" width="24.10" height="74.37" fill="#d1e5f0"/>
<rect x="410.61" y="1372.15" width="24.10" height="74.37" fill="#d1e5f0"/>
<rect x="434.71" y="1372.15" width="24.10" height="74.37" fill="#d1e5f0"/>
<rect x="458.81" y="1372.15" width="24.10" height="74.37" fill="#d1e5f0"/>
<rect x="482.92" y="1372.15" width="24.10" height="74.37" fill="#d1e5f0"/>
<rect x="507.02" y="1372.15" width="24.10" height="74.37" fill="#d1e5f0"/>
<rect x="531.12" y="1372.15" width="24.10" height="74.37" fill="#d1e5f0"/>
<rect x="555.22" y="1372.15" width="24.10" height="74.37" fill="#d1e5f0"/>
<rect x="579.32" y="1372.15" width="24.10" height="74.37" fill="#d1e5f0"/>
<rect x="603.42" y="1372.15" width="24.10" height="74.37" fill="#d1e5f0"/>
<rect x="627.53" y="1372.15" width="24.10" height="74.37" fill="#d1e5f0"/>
<rect x="651.63" y="1372.15" width="24.10" height="74.37" fill="#d1e5f0"/>
<rect x="675.73" y="1372.15" width="24.10" height="74.37" fill="#d1e5f0"/>
<rect x="699.83" y="1372.15" width="24.10" height="74.37" fill="#d1e5f0"/>
<rect x="723.93" y="1372.15" width="24.10" height="74.37" fill="#d1e5f0"/>
<rect x="748.03" y="1372.15" width="24.10" height="74.37" fill="#d1e5f0"/>
<rect x="772.14" y="1372.15" width="24.10" height="74.37" fill="#d1e5f0"/>
<rect x="796.24" y="1372.15" width="24.10" height="74.37" fill="#d1e5f0"/>
<rect x="820.34" y="1372.15" width="24.10" height="74.37" fill="#d1e5f0"/>
<rect x="844.44" y="1372.15" width="24.10" height="74.37" fill="#d1e5f0"/>
<rect x="868.54" y="1372.15" width="24.10" height="74.37" fill="#e3e1df"/>
<rect x="892.64" y="1372.15" width="24.10" height="74.37" fill="#f5ad8c"/>
<rect x="916.75" y="1372.15" width="24.10" height="74.37" fill="#f2ded1"/>
<rect x="940.85" y="1372.15" width="24.10" height="74.37" fill="#c94741"/>
<rect x="964.95" y="1372.15" width="24.10" height="74.37" fill="#e58268"/>
<rect x="989.05" y="1372.15" width="24.10" height="74.37" fill="#fddbc7"/>
<rect x="1013.15" y="1372.15" width="24.10" height="74.37" fill="#fbd0b9"/>
<rect x="1037.25" y="1372.15" width="24.10" height="74.37" fill="#d1e5f0"/>
<rect x="1061.36" y="1372.15" width="24.10" height="74.37" fill="#de715a"/>
<rect x="1085.46" y="1372.15" width="24.10" height="74.37" fill="#d1e5f0"/>
<rect x="1109.56" y="1372.15" width="24.10" height="74.37" fill="#fddbc7"/>
<rect x="1133.66" y="1372.15" width="24.10" height="74.37" fill="#d6604d"/>
<rect x="1157.76" y="1372.15" width="24.10" height="74.37" fill="#e3e1df"/>
<rect x="1181.86" y="1372.15" width="24.10" height="74.37" fill="#d1e5f0"/>
<rect x="1205.97" y="1372.15" width="24.10" height="74.37" fill="#c94741"/>
<rect x="1230.07" y="1372.15" width="24.10" height="74.37" fill="#fddbc7"/>
<rect x="1254.17" y="1372.15" width="24.10" height="74.37" fill="#e3e1df"/>
<rect x="1278.27" y="1372.15" width="24.10" height="74.37" fill="#f4a582"/>
<rect x="1302.37" y="1372.15" width="24.10" height="74.37" fill="#e3e1df"/>
<rect x="1326.47" y="1372.15" width="24.10" height="74.37" fill="#fbd0b9"/>
<rect x="1350.58" y="1372.15" width="24.10" height="74.37" fill="#d1e5f0"/>
<rect x="1374.68" y="1372.15" width="24.10" height="74.37" fill="#d1e5f0"/>
<rect x="1398.78" y="1372.15" width="24.10" height="74.37" fill="#d1e5f0"/>
<rect x="1422.88" y="1372.15" width="24.10" height="74.37" fill="#d1e5f0"/>
<rect x="1446.98" y="1372.15" width="24.10" height="74.37" fill="#d1e5f0"/>
<rect x="1471.08" y="1372.15" width="24.10" height="74.37" fill="#d1e5f0"/>
<rect x="1495.19" y="1372.15" width="24.10" height="74.37" fill="#d1e5f0"/>
<rect x="1519.29" y="1372.15" width="24.10" height="74.37" fill="#d1e5f0"/>
<rect x="1543.39" y="1372.15" width="24.10" height="74.37" fill="#d1e5f0"/>
<rect x="1567.49" y="1372.15" width="24.10" height="74.37" fill="#d1e5f0"/>
<rect x="1591.59" y="1372.15" width="24.10" height="74.37" fill="#d1e5f0"/>
<rect x="1615.69" y="1372.15" width="24.10" height="74.37" fill="#d1e5f0"/>
<rect x="1639.80" y="1372.15" width="24.10" height="74.37" fill="#d1e5f0"/>
<rect x="1663.90" y="1372.15" width="24.10" height="74.37" fill="#d1e5f0"/>
<rect x="266.00" y="1446.52" width="24.10" height="74.37" fill="#d1e5f0"/>
<rect x="290.10" y="1446.52" width="24.10" height="74.37" fill="#d1e5f0"/>
<rect x="314.20" y="1446.52" width="24.10" height="74.37" fill="#d1e5f0"/>
<rect x="338.31" y="1446.52" width="24.10" height="74.37" fill="#d1e5f0"/>
<rect x="362.41" y="1446.52" width="24.10" height="74.37" fill="#f9c3a8"/>
<rect x="386.51" y="1446.52" width="24.10" height="74.37" fill="#d1e5f0"/>
<rect x="410.61" y="1446.52" width="24.10" height="74.37" fill="#d1e5f0"/>
<rect x="434.71" y="1446.52" width="24.10" height="74.37" fill="#d1e5f0"/>
<rect x="458.81" y="1446.52" width="24.10" height="74.37" fill="#d1e5f0"/>
<rect x="482.92" y="1446.52" width="24.10" height="74.37" fill="#d1e5f0"/>
<rect x="507.02" y="1446.52" width="24.10" height="74.37" fill="#d1e5f0"/>
<rect x="531.12" y="1446.52" width="24.10" height="74.37" fill="#d1e5f0"/>
<rect x="555.22" y="1446.52" width="24.10" height="74.37" fill="#d1e5f0"/>
<rect x="579.32" y="1446.52" width="24.10" height="74.37" fill="#d1e5f0"/>
<rect x="603.42" y="1446.52" width="24.10" height="74.37" fill="#d1e5f0"/>
<rect x="627.53" y="1446.52" width="24.10" height="74.37" fill="#d1e5f0"/>
<rect x="651.63" y="1446.52" width="24.10" height="74.37" fill="#d1e5f0"/>
<rect x="675.73" y="1446.52" width="24.10" height="74.37" fill="#d1e5f0"/>
<rect x="699.83" y="1446.52" width="24.10" height="74.37" fill="#d1e5f0"/>
<rect x="723.93" y="1446.52" width="24.10" height="74.37" fill="#d1e5f0"/>
<rect x="748.03" y="1446.52" width="24.10" height="74.37" fill="#d1e5f0"/>
<rect x="772.14" y="1446.52" width="24.10" height="74.37" fill="#d1e5f0"/>
<rect x="796.24" y="1446.52" width="24.10" height="74.37" fill="#d1e5f0"/>
<rect x="820.34" y="1446.52" width="24.10" height="74.37" fill="#d1e5f0"/>
<rect x="844.44" y="1446.52" width="24.10" height="74.37" fill="#d1e5f0"/>
<rect x="868.54" y="1446.52" width="24.10" height="74.37" fill="#f8dccc"/>
<rect x="892.64" y="1446.52" width="24.10" height="74.37" fill="#e3e1df"/>
<rect x="916.75" y="1446.52" width="24.10" height="74.37" fill="#d1e5f0"/>
<rect x="940.85" y="1446.52" width="24.10" height="74.37" fill="#d1e5f0"/>
<rect x="964.95" y="1446.52" width="24.10" height="74.37" fill="#d1e5f0"/>
<rect x="989.05" y="1446.52" width="24.10" height="74.37" fill="#b72330"/>
<rect x="1013.15" y="1446.52" width="24.10" height="74.37" fill="#f2ded1"/>
<rect x="1037.25" y="1446.52" width="24.10" height="74.37" fill="#d1e5f0"/>
<rect x="1061.36" y="1446.52" width="24.10" height="74.37" fill="#cf5246"/>
<rect x="1085.46" y="1446.52" width="24.10" height="74.37" fill="#fbd0b9"/>
<rect x="1109.56" y="1446.52" width="24.10" height="74.37" fill="#d1e5f0"/>
<rect x="1133.66" y="1446.52" width="24.10" height="74.37" fill="#cf5246"/>
<rect x="1157.76" y="1446.52" width="24.10" height="74.37" fill="#f9c3a8"/>
<rect x="1181.86" y="1446.52" width="24.10" height="74.37" fill="#f4a582"/>
<rect x="1205.97" y="1446.52" width="24.10" height="74.37" fill="#f9c3a8"/>
<rect x="1230.07" y="1446.52" width="24.10" height="74.37" fill="#f7b597"/>
<rect x="1254.17" y="1446.52" width="24.10" height="74.37" fill="#f4a582"/>
<rect x="1278.27" y="1446.52" width="24.10" height="74.37" fill="#d1e5f0"/>
<rect x="1302.37" y="1446.52" width="24.10" height="74.37" fill="#de715a"/>
<rect x="1326.47" y="1446.52" width="24.10" height="74.37" fill="#d1e5f0"/>
<rect x="1350.58" y="1446.52" width="24.10" height="74.37" fill="#d1e5f0"/>
<rect x="1374.68" y="1446.52" width="24.10" height="74.37" fill="#d1e5f0"/>
<rect x="1398.78" y="1446.52" width="24.10" height="74.37" fill="#d1e5f0"/>
<rect x="1422.88" y="1446.52" width="24.10" height="74.37" fill="#d1e5f0"/>
<rect x="1446.98" y="1446.52" width="24.10" height="74.37" fill="#d1e5f0"/>
<rect x="1471.08" y="1446.52" width="24.10" height="74.37" fill="#d1e5f0"/>
<rect x="1495.19" y="1446.52" width="24.10" height="74.37" fill="#d1e5f0"/>
<rect x="1519.29" y="1446.52" width="24.10" height="74.37" fill="#d1e5f0"/>
<rect x="1543.39" y="1446.52" width="24.10" height="74.37" fill="#d1e5f0"/>
<rect x="1567.49" y="1446.52" width="24.10" height="74.37" fill="#d1e5f0"/>
<rect x="1591.59" y="1446.52" width="24.10" height="74.37" fill="#d1e5f0"/>
<rect x="1615.69" y="1446.52" width="24.10" height="74.37" fill="#d1e5f0"/>
<rect x="1639.80" y="1446.52" width="24.10" height="74.37" fill="#d1e5f0"/>
<rect x="1663.90" y="1446.52" width="24.10" height="74.37" fill="#d1e5f0"/>
<rect x="266.00" y="1520.90" width="24.10" height="74.37" fill="#d1e5f0"/>
<rect x="290.10" y="1520.90" width="24.10" height="74.37" fill="#fbd0b9"/>
<rect x="314.20" y="1520.90" width="24.10" height="74.37" fill="#f2ded1"/>
<rect x="338.31" y="1520.90" width="24.10" height="74.37" fill="#d1e5f0"/>
<rect x="362.41" y="1520.90" width="24.10" height="74.37" fill="#d1e5f0"/>
<rect x="386.51" y="1520.90" width="24.10" height="74.37" fill="#d1e5f0"/>
<rect x="410.61" y="1520.90" width="24.10" height="74.37" fill="#d1e5f0"/>
<rect x="434.71" y="1520.90" width="24.10" height="74.37" fill="#d1e5f0"/>
<rect x="458.81" y="1520.90" width="24.10" height="74.37" fill="#d1e5f0"/>
<rect x="482.92" y="1520.90" width="24.10" height="74.37" fill="#d1e5f0"/>
<rect x="507.02" y="1520.90" width="24.10" height="74.37" fill="#d1e5f0"/>
<rect x="531.12" y="1520.90" width="24.10" height="74.37" fill="#d1e5f0"/>
<rect x="555.22" y="1520.90" width="24.10" height="74.37" fill="#d1e5f0"/>
<rect x="579.32" y="1520.90" width="24.10" height="74.37" fill="#d1e5f0"/>
<rect x="603.42" y="1520.90" width="24.10" height="74.37" fill="#d1e5f0"/>
<rect x="627.53" y="1520.90" width="24.10" height="74.37" fill="#d1e5f0"/>
<rect x="651.63" y="1520.90" width="24.10" height="74.37" fill="#d1e5f0"/>
<rect x="675.73" y="1520.90" width="24.10" height="74.37" fill="#d1e5f0"/>
<rect x="699.83" y="1520.90" width="24.10" height="74.37" fill="#d1e5f0"/>
<rect x="723.93" y="1520.90" width="24.10" height="74.37" fill="#d1e5f0"/>
<rect x="748.03" y="1520.90" width="24.10" height="74.37" fill="#d1e5f0"/>
<rect x="772.14" y="1520.90" width="24.10" height="74.37" fill="#d1e5f0"/>
<rect x="796.24" y="1520.90" width="24.10" height="74.37" fill="#d1e5f0"/>
<rect x="820.34" y="1520.90" width="24.10" height="74.37" fill="#d1e5f0"/>
<rect x="844.44" y="1520.90" width="24.10" height="74.37" fill="#d1e5f0"/>
<rect x="868.54" y="1520.90" width="24.10" height="74.37" fill="#f8dccc"/>
<rect x="892.64" y="1520.90" width="24.10" height="74.37" fill="#67001f"/>
<rect x="916.75" y="1520.90" width="24.10" height="74.37" fill="#d1e5f0"/>
<rect x="940.85" y="1520.90" width="24.10" height="74.37" fill="#f4a582"/>
<rect x="964.95" y="1520.90" width="24.10" height="74.37" fill="#d1e5f0"/>
<rect x="989.05" y="1520.90" width="24.10" height="74.37" fill="#f5ad8c"/>
<rect x="1013.15" y="1520.90" width="24.10" height="74.37" fill="#f2ded1"/>
<rect x="1037.25" y="1520.90" width="24.10" height="74.37" fill="#fbd0b9"/>
<rect x="1061.36" y="1520.90" width="24.10" height="74.37" fill="#d1e5f0"/>
<rect x="1085.46" y="1520.90" width="24.10" height="74.37" fill="#d1e5f0"/>
<rect x="1109.56" y="1520.90" width="24.10" height="74.37" fill="#d1e5f0"/>
<rect x="1133.66" y="1520.90" width="24.10" height="74.37" fill="#f5ad8c"/>
<rect x="1157.76" y="1520.90" width="24.10" height="74.37" fill="#f2ded1"/>
<rect x="1181.86" y="1520.90" width="24.10" height="74.37" fill="#de715a"/>
<rect x="1205.97" y="1520.90" width="24.10" height="74.37" fill="#fbd0b9"/>
<rect x="1230.07" y="1520.90" width="24.10" height="74.37" fill="#f5ad8c"/>
<rect x="1254.17" y="1520.90" width="24.10" height="74.37" fill="#f5ad8c"/>
<rect x="1278.27" y="1520.90" width="24.10" height="74.37" fill="#f5ad8c"/>
<rect x="1302.37" y="1520.90" width="24.10" height="74.37" fill="#f5ad8c"/>
<rect x="1326.47" y="1520.90" width="24.10" height="74.37" fill="#f2ded1"/>
<rect x="1350.58" y="1520.90" width="24.10" height="74.37" fill="#d1e5f0"/>
<rect x="1374.68" y="1520.90" width="24.10" height="74.37" fill="#d1e5f0"/>
<rect x="1398.78" y="1520.90" width="24.10" height="74.37" fill="#d1e5f0"/>
<rect x="1422.88" y="1520.90" width="24.10" height="74.37" fill="#d1e5f0"/>
<rect x="1446.98" y="1520.90" width="24.10" height="74.37" fill="#d1e5f0"/>
<rect x="1471.08" y="1520.90" width="24.10" height="74.37" fill="#d1e5f0"/>
<rect x="1495.19" y="1520.90" width="24.10" height="74.37" fill="#d1e5f0"/>
<rect x="1519.29" y="1520.90" width="24.10" height="74.37" fill="#d1e5f0"/>
<rect x="1543.39" y="1520.90" width="24.10" height="74.37" fill="#d1e5f0"/>
<rect x="1567.49" y="1520.90" width="24.10" height="74.37" fill="#d1e5f0"/>
<rect x="1591.59" y="1520.90" width="24.10" height="74.37" fill="#d1e5f0"/>
<rect x="1615.69" y="1520.90" width="24.10" height="74.37" fill="#d1e5f0"/>
<rect x="1639.80" y="1520.90" width="24.10" height="74.37" fill="#d1e5f0"/>
<rect x="1663.90" y="1520.90" width="24.10" height="74.37" fill="#d1e5f0"/>
<rect x="266.00" y="1595.27" width="24.10" height="74.37" fill="#d1e5f0"/>
<rect x="290.10" y="1595.27" width="24.10" height="74.37" fill="#fddbc7"/>
<rect x="314.20" y="1595.27" width="24.10" height="74.37" fill="#d1e5f0"/>
<rect x="338.31" y="1595.27" width="24.10" height="74.37" fill="#ee9777"/>
<rect x="362.41" y="1595.27" width="24.10" height="74.37" fill="#d1e5f0"/>
<rect x="386.51" y="1595.27" width="24.10" height="74.37" fill="#d1e5f0"/>
<rect x="410.61" y="1595.27" width="24.10" height="74.37" fill="#d1e5f0"/>
<rect x="434.71" y="1595.27" width="24.10" height="74.37" fill="#d1e5f0"/>
<rect x="458.81" y="1595.27" width="24.10" height="74.37" fill="#d1e5f0"/>
<rect x="482.92" y="1595.27" width="24.10" height="74.37" fill="#d1e5f0"/>
<rect x="507.02" y="1595.27" width="24.10" height="74.37" fill="#d1e5f0"/>
<rect x="531.12" y="1595.27" width="24.10" height="74.37" fill="#d1e5f0"/>
<rect x="555.22" y="1595.27" width="24.10" height="74.37" fill="#d1e5f0"/>
<rect x="579.32" y="1595.27" width="24.10" height="74.37" fill="#d1e5f0"/>
<rect x="603.42" y="1595.27" width="24.10" height="74.37" fill="#d1e5f0"/>
<rect x="627.53" y="1595.27" width="24.10" height="74.37" fill="#d1e5f0"/>
<rect x="651.63" y="1595.27" width="24.10" height="74.37" fill="#d1e5f0"/>
<rect x="675.73" y="1595.27" width="24.10" height="74.37" fill="#d1e5f0"/>
<rect x="699.83" y="1595.27" width="24.10" height="74.37" fill="#d1e5f0"/>
<rect x="723.93" y="1595.27" width="24.10" height="74.37" fill="#d1e5f0"/>
<rect x="748.03" y="1595.27" width="24.10" height="74.37" fill="#d1e5f0"/>
<rect x="772.14" y="1595.27" width="24.10" height="74.37" fill="#d1e5f0"/>
<rect x="796.24" y="1595.27" width="24.10" height="74.37" fill="#d1e5f0"/>
<rect x="820.34" y="1595.27" width="24.10" height="74.37" fill="#d1e5f0"/>
<rect x="844.44" y="1595.27" width="24.10" height="74.37" fill="#d1e5f0"/>
<rect x="868.54" y="1595.27" width="24.10" height="74.37" fill="#ea8d6f"/>
<rect x="892.64" y="1595.27" width="24.10" height="74.37" fill="#ee9777"/>
<rect x="916.75" y="1595.27" width="24.10" height="74.37" fill="#d1e5f0"/>
<rect x="940.85" y="1595.27" width="24.10" height="74.37" fill="#f8dccc"/>
<rect x="964.95" y="1595.27" width="24.10" height="74.37" fill="#f9c3a8"/>
<rect x="989.05" y="1595.27" width="24.10" height="74.37" fill="#ee9777"/>
<rect x="1013.15" y="1595.27" width="24.10" height="74.37" fill="#d1e5f0"/>
<rect x="1037.25" y="1595.27" width="24.10" height="74.37" fill="#d1e5f0"/>
<rect x="1061.36" y="1595.27" width="24.10" height="74.37" fill="#d1e5f0"/>
<rect x="1085.46" y="1595.27" width="24.10" height="74.37" fill="#f9c3a8"/>
<rect x="1109.56" y="1595.27" width="24.10" height="74.37" fill="#d1e5f0"/>
<rect x="1133.66" y="1595.27" width="24.10" height="74.37" fill="#cf5246"/>
<rect x="1157.76" y="1595.27" width="24.10" height="74.37" fill="#f9c3a8"/>
<rect x="1181.86" y="1595.27" width="24.10" height="74.37" fill="#fbd0b9"/>
<rect x="1205.97" y="1595.27" width="24.10" height="74.37" fill="#f5ad8c"/>
<rect x="1230.07" y="1595.27" width="24.10" height="74.37" fill="#fbd0b9"/>
<rect x="1254.17" y="1595.27" width="24.10" height="74.37" fill="#d1e5f0"/>
<rect x="1278.27" y="1595.27" width="24.10" height="74.37" fill="#f9c3a8"/>
<rect x="1302.37" y="1595.27" width="24.10" height="74.37" fill="#c94741"/>
<rect x="1326.47" y="1595.27" width="24.10" height="74.37" fill="#ea8d6f"/>
<rect x="1350.58" y="1595.27" width="24.10" height="74.37" fill="#d1e5f0"/>
<rect x="1374.68" y="1595.27" width="24.10" height="74.37" fill="#d1e5f0"/>
<rect x="1398.78" y="1595.27" width="24.10" height="74.37" fill="#d1e5f0"/>
<rect x="1422.88" y="1595.27" width="24.10" height="74.37" fill="#d1e5f0"/>
<rect x="1446.98" y="1595.27" width="24.10" height="74.37" fill="#d1e5f0"/>
<rect x="1471.08" y="1595.27" width="24.10" height="74.37" fill="#d1e5f0"/>
<rect x="1495.19" y="1595.27" width="24.10" height="74.37" fill="#d1e5f0"/>
<rect x="1519.29" y="1595.27" width="24.10" height="74.37" fill="#d1e5f0"/>
<rect x="1543.39" y="1595.27" width="24.10" height="74.37" fill="#d1e5f0"/>
<rect x="1567.49" y="1595.27" width="24.10" height="74.37" fill="#d1e5f0"/>
<rect x="1591.59" y="1595.27" width="24.10" height="74.37" fill="#d1e5f0"/>
<rect x="1615.69" y="1595.27" width="24.10" height="74.37" fill="#d1e5f0"/>
<rect x="1639.80" y="1595.27" width="24.10" height="74.37" fill="#d1e5f0"/>
<rect x="1663.90" y="1595.27" width="24.10" height="74.37" fill="#d1e5f0"/>
<rect x="266.00" y="1669.64" width="24.10" height="74.37" fill="#d1e5f0"/>
<rect x="290.10" y="1669.64" width="24.10" height="74.37" fill="#f2ded1"/>
<rect x="314.20" y="1669.64" width="24.10" height="74.37" fill="#d1e5f0"/>
<rect x="338.31" y="1669.64" width="24.10" height="74.37" fill="#d1e5f0"/>
<rect x="362.41" y="1669.64" width="24.10" height="74.37" fill="#d1e5f0"/>
<rect x="386.51" y="1669.64" width="24.10" height="74.37" fill="#d1e5f0"/>
<rect x="410.61" y="1669.64" width="24.10" height="74.37" fill="#d1e5f0"/>
<rect x="434.71" y="1669.64" width="24.10" height="74.37" fill="#d1e5f0"/>
<rect x="458.81" y="1669.64" width="24.10" height="74.37" fill="#d1e5f0"/>
<rect x="482.92" y="1669.64" width="24.10" height="74.37" fill="#d1e5f0"/>
<rect x="507.02" y="1669.64" width="24.10" height="74.37" fill="#d1e5f0"/>
<rect x="531.12" y="1669.64" width="24.10" height="74.37" fill="#d1e5f0"/>
<rect x="555.22" y="1669.64" width="24.10" height="74.37" fill="#d1e5f0"/>
<rect x="579.32" y="1669.64" width="24.10" height="74.37" fill="#d1e5f0"/>
<rect x="603.42" y="1669.64" width="24.10" height="74.37" fill="#d1e5f0"/>
<rect x="627.53" y="1669.64" width="24.10" height="74.37" fill="#d1e5f0"/>
<rect x="651.63" y="1669.64" width="24.10" height="74.37" fill="#d1e5f0"/>
<rect x="675.73" y="1669.64" width="24.10" height="74.37" fill="#d1e5f0"/>
<rect x="699.83" y="1669.64" width="24.10" height="74.37" fill="#d1e5f0"/>
<rect x="723.93" y="1669.64" width="24.10" height="74.37" fill="#d1e5f0"/>
<rect x="748.03" y="1669.64" width="24.10" height="74.37" fill="#d1e5f0"/>
<rect x="772.14" y="1669.64" width="24.10" height="74.37" fill="#d1e5f0"/>
<rect x="796.24" y="1669.64" width="24.10" height="74.37" fill="#d1e5f0"/>
<rect x="820.34" y="1669.64" width="24.10" height="74.37" fill="#d1e5f0"/>
<rect x="844.44" y="1669.64" width="24.10" height="74.37" fill="#d1e5f0"/>
<rect x="868.54" y="1669.64" width="24.10" height="74.37" fill="#ea8d6f"/>
<rect x="892.64" y="1669.64" width="24.10" height="74.37" fill="#f5ad8c"/>
<rect x="916.75" y="1669.64" width="24.10" height="74.37" fill="#fbd0b9"/>
<rect x="940.85" y="1669.64" width="24.10" height="74.37" fill="#fddbc7"/>
<rect x="964.95" y="1669.64" width="24.10" height="74.37" fill="#dae3e8"/>
<rect x="989.05" y="1669.64" width="24.10" height="74.37" fill="#f5ad8c"/>
<rect x="1013.15" y="1669.64" width="24.10" height="74.37" fill="#a31329"/>
<rect x="1037.25" y="1669.64" width="24.10" height="74.37" fill="#dae3e8"/>
<rect x="1061.36" y="1669.64" width="24.10" height="74.37" fill="#f5ad8c"/>
<rect x="1085.46" y="1669.64" width="24.10" height="74.37" fill="#d1e5f0"/>
<rect x="1109.56" y="1669.64" width="24.10" height="74.37" fill="#dae3e8"/>
<rect x="1133.66" y="1669.64" width="24.10" height="74.37" fill="#fddbc7"/>
<rect x="1157.76" y="1669.64" width="24.10" height="74.37" fill="#de715a"/>
<rect x="1181.86" y="1669.64" width="24.10" height="74.37" fill="#d1e5f0"/>
<rect x="1205.97" y="1669.64" width="24.10" height="74.37" fill="#d1e5f0"/>
<rect x="1230.07" y="1669.64" width="24.10" height="74.37" fill="#f2ded1"/>
<rect x="1254.17" y="1669.64" width="24.10" height="74.37" fill="#d1e5f0"/>
<rect x="1278.27" y="1669.64" width="24.10" height="74.37" fill="#d1e5f0"/>
<rect x="1302.37" y="1669.64" width="24.10" height="74.37" fill="#fbd0b9"/>
<rect x="1326.47" y="1669.64" width="24.10" height="74.37" fill="#f5ad8c"/>
<rect x="1350.58" y="1669.64" width="24.10" height="74.37" fill="#d1e5f0"/>
<rect x="1374.68" y="1669.64" width="24.10" height="74.37" fill="#d1e5f0"/>
<rect x="1398.78" y="1669.64" width="24.10" height="74.37" fill="#d1e5f0"/>
<rect x="1422.88" y="1669.64" width="24.10" height="74.37" fill="#d1e5f0"/>
<rect x="1446.98" y="1669.64" width="24.10" height="74.37" fill="#d1e5f0"/>
<rect x="1471.08" y="1669.64" width="24.10" height="74.37" fill="#d1e5f0"/>
<rect x="1495.19" y="1669.64" width="24.10" height="74.37" fill="#d1e5f0"/>
<rect x="1519.29" y="1669.64" width="24.10" height="74.37" fill="#bd2e35"/>
<rect x="1543.39" y="1669.64" width="24.10" height="74.37" fill="#d1e5f0"/>
<rect x="1567.49" y="1669.64" width="24.10" height="74.37" fill="#d1e5f0"/>
<rect x="1591.59" y="1669.64" width="24.10" height="74.37" fill="#d1e5f0"/>
<rect x="1615.69" y="1669.64" width="24.10" height="74.37" fill="#d1e5f0"/>
<rect x="1639.80" y="1669.64" width="24.10" height="74.37" fill="#d1e5f0"/>
<rect x="1663.90" y="1669.64" width="24.10" height="74.37" fill="#d1e5f0"/>
<rect x="266.00" y="1744.01" width="24.10" height="74.37" fill="#d5e4ec"/>
<rect x="290.10" y="1744.01" width="24.10" height="74.37" fill="#d5e4ec"/>
<rect x="314.20" y="1744.01" width="24.10" height="74.37" fill="#d5e4ec"/>
<rect x="338.31" y="1744.01" width="24.10" height="74.37" fill="#d5e4ec"/>
<rect x="362.41" y="1744.01" width="24.10" height="74.37" fill="#d5e4ec"/>
<rect x="386.51" y="1744.01" width="24.10" height="74.37" fill="#d5e4ec"/>
<rect x="410.61" y="1744.01" width="24.10" height="74.37" fill="#d5e4ec"/>
<rect x="434.71" y="1744.01" width="24.10" height="74.37" fill="#d5e4ec"/>
<rect x="458.81" y="1744.01" width="24.10" height="74.37" fill="#d5e4ec"/>
<rect x="482.92" y="1744.01" width="24.10" height="74.37" fill="#d5e4ec"/>
<rect x="507.02" y="1744.01" width="24.10" height="74.37" fill="#d5e4ec"/>
<rect x="531.12" y="1744.01" width="24.10" height="74.37" fill="#d5e4ec"/>
<rect x="555.22" y="1744.01" width="24.10" height="74.37" fill="#d5e4ec"/>
<rect x="579.32" y="1744.01" width="24.10" height="74.37" fill="#d5e4ec"/>
<rect x="603.42" y="1744.01" width="24.10" height="74.37" fill="#d5e4ec"/>
<rect x="627.53" y="1744.01" width="24.10" height="74.37" fill="#d5e4ec"/>
<rect x="651.63" y="1744.01" width="24.10" height="74.37" fill="#d5e4ec"/>
<rect x="675.73" y="1744.01" width="24.10" height="74.37" fill="#d5e4ec"/>
<rect x="699.83" y="1744.01" width="24.10" height="74.37" fill="#d5e4ec"/>
<rect x="723.93" y="1744.01" width="24.10" height="74.37" fill="#d5e4ec"/>
<rect x="748.03" y="1744.01" width="24.10" height="74.37" fill="#d5e4ec"/>
<rect x="772.14" y="1744.01" width="24.10" height="74.37" fill="#d5e4ec"/>
<rect x="796.24" y="1744.01" width="24.10" height="74.37" fill="#d5e4ec"/>
<rect x="820.34" y="1744.01" width="24.10" height="74.37" fill="#d5e4ec"/>
<rect x="844.44" y="1744.01" width="24.10" height="74.37" fill="#d5e4ec"/>
<rect x="868.54" y="1744.01" width="24.10" height="74.37" fill="#d5e4ec"/>
<rect x="892.64" y="1744.01" width="24.10" height="74.37" fill="#d5e4ec"/>
<rect x="916.75" y="1744.01" width="24.10" height="74.37" fill="#d5e4ec"/>
<rect x="940.85" y="1744.01" width="24.10" height="74.37" fill="#f4a582"/>
<rect x="964.95" y="1744.01" width="24.10" height="74.37" fill="#fbd0b9"/>
<rect x="989.05" y="1744.01" width="24.10" height="74.37" fill="#d5e4ec"/>
<rect x="1013.15" y="1744.01" width="24.10" height="74.37" fill="#de715a"/>
<rect x="1037.25" y="1744.01" width="24.10" height="74.37" fill="#d5e4ec"/>
<rect x="1061.36" y="1744.01" width="24.10" height="74.37" fill="#fddbc7"/>
<rect x="1085.46" y="1744.01" width="24.10" height="74.37" fill="#d5e4ec"/>
<rect x="1109.56" y="1744.01" width="24.10" height="74.37" fill="#e58268"/>
<rect x="1133.66" y="1744.01" width="24.10" height="74.37" fill="#fbd0b9"/>
<rect x="1157.76" y="1744.01" width="24.10" height="74.37" fill="#d6604d"/>
<rect x="1181.86" y="1744.01" width="24.10" height="74.37" fill="#760521"/>
<rect x="1205.97" y="1744.01" width="24.10" height="74.37" fill="#ee9777"/>
<rect x="1230.07" y="1744.01" width="24.10" height="74.37" fill="#d5e4ec"/>
<rect x="1254.17" y="1744.01" width="24.10" height="74.37" fill="#fddbc7"/>
<rect x="1278.27" y="1744.01" width="24.10" height="74.37" fill="#f5ad8c"/>
<rect x="1302.37" y="1744.01" width="24.10" height="74.37" fill="#d5e4ec"/>
<rect x="1326.47" y="1744.01" width="24.10" height="74.37" fill="#d5e4ec"/>
<rect x="1350.58" y="1744.01" width="24.10" height="74.37" fill="#d5e4ec"/>
<rect x="1374.68" y="1744.01" width="24.10" height="74.37" fill="#d5e4ec"/>
<rect x="1398.78" y="1744.01" width="24.10" height="74.37" fill="#d5e4ec"/>
<rect x="1422.88" y="1744.01" width="24.10" height="74.37" fill="#d5e4ec"/>
<rect x="1446.98" y="1744.01" width="24.10" height="74.37" fill="#d5e4ec"/>
<rect x="1471.08" y="1744.01" width="24.10" height="74.37" fill="#d5e4ec"/>
<rect x="1495.19" y="1744.01" width="24.10" height="74.37" fill="#d5e4ec"/>
<rect x="1519.29" y="1744.01" width="24.10" height="74.37" fill="#d5e4ec"/>
<rect x="1543.39" y="1744.01" width="24.10" height="74.37" fill="#d5e4ec"/>
<rect x="1567.49" y="1744.01" width="24.10" height="74.37" fill="#d5e4ec"/>
<rect x="1591.59" y="1744.01" width="24.10" height="74.37" fill="#d5e4ec"/>
<rect x="1615.69" y="1744.01" width="24.10" height="74.37" fill="#d5e4ec"/>
<rect x="1639.80" y="1744.01" width="24.10" height="74.37" fill="#d5e4ec"/>
<rect x="1663.90" y="1744.01" width="24.10" height="74.37" fill="#d5e4ec"/>
<rect x="266.00" y="1818.38" width="24.10" height="74.37" fill="#f9c3a8"/>
<rect x="290.10" y="1818.38" width="24.10" height="74.37" fill="#d1e5f0"/>
<rect x="314.20" y="1818.38" width="24.10" height="74.37" fill="#f2ded1"/>
<rect x="338.31" y="1818.38" width="24.10" height="74.37" fill="#d1e5f0"/>
<rect x="362.41" y="1818.38" width="24.10" height="74.37" fill="#d1e5f0"/>
<rect x="386.51" y="1818.38" width="24.10" height="74.37" fill="#d1e5f0"/>
<rect x="410.61" y="1818.38" width="24.10" height="74.37" fill="#d1e5f0"/>
<rect x="434.71" y="1818.38" width="24.10" height="74.37" fill="#d1e5f0"/>
<rect x="458.81" y="1818.38" width="24.10" height="74.37" fill="#d1e5f0"/>
<rect x="482.92" y="1818.38" width="24.10" height="74.37" fill="#d1e5f0"/>
<rect x="507.02" y="1818.38" width="24.10" height="74.37" fill="#d1e5f0"/>
<rect x="531.12" y="1818.38" width="24.10" height="74.37" fill="#d1e5f0"/>
<rect x="555.22" y="1818.38" width="24.10" height="74.37" fill="#d1e5f0"/>
<rect x="579.32" y="1818.38" width="24.10" height="74.37" fill="#d1e5f0"/>
<rect x="603.42" y="1818.38" width="24.10" height="74.37" fill="#d1e5f0"/>
<rect x="627.53" y="1818.38" width="24.10" height="74.37" fill="#d1e5f0"/>
<rect x="651.63" y="1818.38" width="24.10" height="74.37" fill="#d1e5f0"/>
<rect x="675.73" y="1818.38" width="24.10" height="74.37" fill="#d1e5f0"/>
<rect x="699.83" y="1818.38" width="24.10" height="74.37" fill="#d1e5f0"/>
<rect x="723.93" y="1818.38" width="24.10" height="74.37" fill="#d1e5f0"/>
<rect x="748.03" y="1818.38" width="24.10" height="74.37" fill="#d1e5f0"/>
<rect x="772.14" y="1818.38" width="24.10" height="74.37" fill="#d1e5f0"/>
<rect x="796.24" y="1818.38" width="24.10" height="74.37" fill="#d1e5f0"/>
<rect x="820.34" y="1818.38" width="24.10" height="74.37" fill="#d1e5f0"/>
<rect x="844.44" y="1818.38" width="24.10" height="74.37" fill="#d1e5f0"/>
<rect x="868.54" y="1818.38" width="24.10" height="74.37" fill="#e3e1df"/>
<rect x="892.64" y="1818.38" width="24.10" height="74.37" fill="#fddbc7"/>
<rect x="916.75" y="1818.38" width="24.10" height="74.37" fill="#d1e5f0"/>
<rect x="940.85" y="1818.38" width="24.10" height="74.37" fill="#f7b597"/>
<rect x="964.95" y="1818.38" width="24.10" height="74.37" fill="#f9c3a8"/>
<rect x="989.05" y="1818.38" width="24.10" height="74.37" fill="#e3e1df"/>
<rect x="1013.15" y="1818.38" width="24.10" height="74.37" fill="#f4a582"/>
<rect x="1037.25" y="1818.38" width="24.10" height="74.37" fill="#da6a55"/>
<rect x="1061.36" y="1818.38" width="24.10" height="74.37" fill="#f2ded1"/>
<rect x="1085.46" y="1818.38" width="24.10" height="74.37" fill="#f4a582"/>
<rect x="1109.56" y="1818.38" width="24.10" height="74.37" fill="#d6604d"/>
<rect x="1133.66" y="1818.38" width="24.10" height="74.37" fill="#fddbc7"/>
<rect x="1157.76" y="1818.38" width="24.10" height="74.37" fill="#e3e1df"/>
<rect x="1181.86" y="1818.38" width="24.10" height="74.37" fill="#d1e5f0"/>
<rect x="1205.97" y="1818.38" width="24.10" height="74.37" fill="#e58268"/>
<rect x="1230.07" y="1818.38" width="24.10" height="74.37" fill="#fbd0b9"/>
<rect x="1254.17" y="1818.38" width="24.10" height="74.37" fill="#e3e1df"/>
<rect x="1278.27" y="1818.38" width="24.10" height="74.37" fill="#cf5246"/>
<rect x="1302.37" y="1818.38" width="24.10" height="74.37" fill="#cf5246"/>
<rect x="1326.47" y="1818.38" width="24.10" height="74.37" fill="#e3e1df"/>
<rect x="1350.58" y="1818.38" width="24.10" height="74.37" fill="#d1e5f0"/>
<rect x="1374.68" y="1818.38" width="24.10" height="74.37" fill="#d1e5f0"/>
<rect x="1398.78" y="1818.38" width="24.10" height="74.37" fill="#d1e5f0"/>
<rect x="1422.88" y="1818.38" width="24.10" height="74.37" fill="#d1e5f0"/>
<rect x="1446.98" y="1818.38" width="24.10" height="74.37" fill="#d1e5f0"/>
<rect x="1471.08" y="1818.38" width="24.10" height="74.37" fill="#d1e5f0"/>
<rect x="1495.19" y="1818.38" width="24.10" height="74.37" fill="#d1e5f0"/>
<rect x="1519.29" y="1818.38" width="24.10" height="74.37" fill="#d1e5f0"/>
<rect x="1543.39" y="1818.38" width="24.10" height="74.37" fill="#d1e5f0"/>
<rect x="1567.49" y="1818.38" width="24.10" height="74.37" fill="#d1e5f0"/>
<rect x="1591.59" y="1818.38" width="24.10" height="74.37" fill="#d1e5f0"/>
<rect x="1615.69" y="1818.38" width="24.10" height="74.37" fill="#d1e5f0"/>
<rect x="1639.80" y="1818.38" width="24.10" height="74.37" fill="#d1e5f0"/>
<rect x="1663.90" y="1818.38" width="24.10" height="74.37" fill="#d1e5f0"/>
<rect x="266.00" y="1892.76" width="24.10" height="74.37" fill="#f8dccc"/>
<rect x="290.10" y="1892.76" width="24.10" height="74.37" fill="#d1e5f0"/>
<rect x="314.20" y="1892.76" width="24.10" height="74.37" fill="#f2ded1"/>
<rect x="338.31" y="1892.76" width="24.10" height="74.37" fill="#fddbc7"/>
<rect x="362.41" y="1892.76" width="24.10" height="74.37" fill="#f2ded1"/>
<rect x="386.51" y="1892.76" width="24.10" height="74.37" fill="#d1e5f0"/>
<rect x="410.61" y="1892.76" width="24.10" height="74.37" fill="#d1e5f0"/>
<rect x="434.71" y="1892.76" width="24.10" height="74.37" fill="#d1e5f0"/>
<rect x="458.81" y="1892.76" width="24.10" height="74.37" fill="#d1e5f0"/>
<rect x="482.92" y="1892.76" width="24.10" height="74.37" fill="#d1e5f0"/>
<rect x="507.02" y="1892.76" width="24.10" height="74.37" fill="#d1e5f0"/>
<rect x="531.12" y="1892.76" width="24.10" height="74.37" fill="#d1e5f0"/>
<rect x="555.22" y="1892.76" width="24.10" height="74.37" fill="#d1e5f0"/>
<rect x="579.32" y="1892.76" width="24.10" height="74.37" fill="#d1e5f0"/>
<rect x="603.42" y="1892.76" width="24.10" height="74.37" fill="#d1e5f0"/>
<rect x="627.53" y="1892.76" width="24.10" height="74.37" fill="#d1e5f0"/>
<rect x="651.63" y="1892.76" width="24.10" height="74.37" fill="#d1e5f0"/>
<rect x="675.73" y="1892.76" width="24.10" height="74.37" fill="#d1e5f0"/>
<rect x="699.83" y="1892.76" width="24.10" height="74.37" fill="#d1e5f0"/>
<rect x="723.93" y="1892.76" width="24.10" height="74.37" fill="#d1e5f0"/>
<rect x="748.03" y="1892.76" width="24.10" height="74.37" fill="#d1e5f0"/>
<rect x="772.14" y="1892.76" width="24.10" height="74.37" fill="#d1e5f0"/>
<rect x="796.24" y="1892.76" width="24.10" height="74.37" fill="#d1e5f0"/>
<rect x="820.34" y="1892.76" width="24.10" height="74.37" fill="#d1e5f0"/>
<rect x="844.44" y="1892.76" width="24.10" height="74.37" fill="#d1e5f0"/>
<rect x="868.54" y="1892.76" width="24.10" height="74.37" fill="#f2ded1"/>
<rect x="892.64" y="1892.76" width="24.10" height="74.37" fill="#f5ad8c"/>
<rect x="916.75" y="1892.76" width="24.10" height="74.37" fill="#e3e1df"/>
<rect x="940.85" y="1892.76" width="24.10" height="74.37" fill="#f2ded1"/>
<rect x="964.95" y="1892.76" width="24.10" height="74.37" fill="#e3e1df"/>
<rect x="989.05" y="1892.76" width="24.10" height="74.37" fill="#f9c3a8"/>
<rect x="1013.15" y="1892.76" width="24.10" height="74.37" fill="#ee9777"/>
<rect x="1037.25" y="1892.76" width="24.10" height="74.37" fill="#d1e5f0"/>
<rect x="1061.36" y="1892.76" width="24.10" height="74.37" fill="#fddbc7"/>
<rect x="1085.46" y="1892.76" width="24.10" height="74.37" fill="#fddbc7"/>
<rect x="1109.56" y="1892.76" width="24.10" height="74.37" fill="#fddbc7"/>
<rect x="1133.66" y="1892.76" width="24.10" height="74.37" fill="#fddbc7"/>
<rect x="1157.76" y="1892.76" width="24.10" height="74.37" fill="#f4a582"/>
<rect x="1181.86" y="1892.76" width="24.10" height="74.37" fill="#e58268"/>
<rect x="1205.97" y="1892.76" width="24.10" height="74.37" fill="#fbd0b9"/>
<rect x="1230.07" y="1892.76" width="24.10" height="74.37" fill="#d1e5f0"/>
<rect x="1254.17" y="1892.76" width="24.10" height="74.37" fill="#f9c3a8"/>
<rect x="1278.27" y="1892.76" width="24.10" height="74.37" fill="#67001f"/>
<rect x="1302.37" y="1892.76" width="24.10" height="74.37" fill="#c94741"/>
<rect x="1326.47" y="1892.76" width="24.10" height="74.37" fill="#f2ded1"/>
<rect x="1350.58" y="1892.76" width="24.10" height="74.37" fill="#d1e5f0"/>
<rect x="1374.68" y="1892.76" width="24.10" height="74.37" fill="#d1e5f0"/>
<rect x="1398.78" y="1892.76" width="24.10" height="74.37" fill="#d1e5f0"/>
<rect x="1422.88" y="1892.76" width="24.10" height="74.37" fill="#d1e5f0"/>
<rect x="1446.98" y="1892.76" width="24.10" height="74.37" fill="#d1e5f0"/>
<rect x="1471.08" y="1892.76" width="24.10" height="74.37" fill="#d1e5f0"/>
<rect x="1495.19" y="1892.76" width="24.10" height="74.37" fill="#d1e5f0"/>
<rect x="1519.29" y="1892.76" width="24.10" height="74.37" fill="#d1e5f0"/>
<rect x="1543.39" y="1892.76" width="24.10" height="74.37" fill="#d1e5f0"/>
<rect x="1567.49" y="1892.76" width="24.10" height="74.37" fill="#d1e5f0"/>
<rect x="1591.59" y="1892.76" width="24.10" height="74.37" fill="#d1e5f0"/>
<rect x="1615.69" y="1892.76" width="24.10" height="74.37" fill="#d1e5f0"/>
<rect x="1639.80" y="1892.76" width="24.10" height="74.37" fill="#d1e5f0"/>
<rect x="1663.90" y="1892.76" width="24.10" height="74.37" fill="#d1e5f0"/>
<rect x="266.00" y="1967.13" width="24.10" height="74.37" fill="#f8dccc"/>
<rect x="290.10" y="1967.13" width="24.10" height="74.37" fill="#f2ded1"/>
<rect x="314.20" y="1967.13" width="24.10" height="74.37" fill="#fddbc7"/>
<rect x="338.31" y="1967.13" width="24.10" height="74.37" fill="#f8dccc"/>
<rect x="362.41" y="1967.13" width="24.10" height="74.37" fill="#f8dccc"/>
<rect x="386.51" y="1967.13" width="24.10" height="74.37" fill="#d1e5f0"/>
<rect x="410.61" y="1967.13" width="24.10" height="74.37" fill="#d1e5f0"/>
<rect x="434.71" y="1967.13" width="24.10" height="74.37" fill="#d1e5f0"/>
<rect x="458.81" y="1967.13" width="24.10" height="74.37" fill="#d1e5f0"/>
<rect x="482.92" y="1967.13" width="24.10" height="74.37" fill="#d1e5f0"/>
<rect x="507.02" y="1967.13" width="24.10" height="74.37" fill="#d1e5f0"/>
<rect x="531.12" y="1967.13" width="24.10" height="74.37" fill="#d1e5f0"/>
<rect x="555.22" y="1967.13" width="24.10" height="74.37" fill="#d1e5f0"/>
<rect x="579.32" y="1967.13" width="24.10" height="74.37" fill="#d1e5f0"/>
<rect x="603.42" y="1967.13" width="24.10" height="74.37" fill="#d1e5f0"/>
<rect x="627.53" y="1967.13" width="24.10" height="74.37" fill="#d1e5f0"/>
<rect x="651.63" y="1967.13" width="24.10" height="74.37" fill="#d1e5f0"/>
<rect x="675.73" y="1967.13" width="24.10" height="74.37" fill="#d1e5f0"/>
<rect x="699.83" y="1967.13" width="24.10" height="74.37" fill="#d1e5f0"/>
<rect x="723.93" y="1967.13" width="24.10" height="74.37" fill="#d1e5f0"/>
<rect x="748.03" y="1967.13" width="24.10" height="74.37" fill="#d1e5f0"/>
<rect x="772.14" y="1967.13" width="24.10" height="74.37" fill="#d1e5f0"/>
<rect x="796.24" y="1967.13" width="24.10" height="74.37" fill="#d1e5f0"/>
<rect x="820.34" y="1967.13" width="24.10" height="74.37" fill="#d1e5f0"/>
<rect x="844.44" y="1967.13" width="24.10" height="74.37" fill="#d1e5f0"/>
<rect x="868.54" y="1967.13" width="24.10" height="74.37" fill="#f2ded1"/>
<rect x="892.64" y="1967.13" width="24.10" height="74.37" fill="#ea8d6f"/>
<rect x="916.75" y="1967.13" width="24.10" height="74.37" fill="#fddbc7"/>
<rect x="940.85" y="1967.13" width="24.10" height="74.37" fill="#fbd0b9"/>
<rect x="964.95" y="1967.13" width="24.10" height="74.37" fill="#dae3e8"/>
<rect x="989.05" y="1967.13" width="24.10" height="74.37" fill="#fbd0b9"/>
<rect x="1013.15" y="1967.13" width="24.10" height="74.37" fill="#8c0c25"/>
<rect x="1037.25" y="1967.13" width="24.10" height="74.37" fill="#d1e5f0"/>
<rect x="1061.36" y="1967.13" width="24.10" height="74.37" fill="#f2ded1"/>
<rect x="1085.46" y="1967.13" width="24.10" height="74.37" fill="#fddbc7"/>
<rect x="1109.56" y="1967.13" width="24.10" height="74.37" fill="#fbd0b9"/>
<rect x="1133.66" y="1967.13" width="24.10" height="74.37" fill="#fddbc7"/>
<rect x="1157.76" y="1967.13" width="24.10" height="74.37" fill="#ea8d6f"/>
<rect x="1181.86" y="1967.13" width="24.10" height="74.37" fill="#d1e5f0"/>
<rect x="1205.97" y="1967.13" width="24.10" height="74.37" fill="#f9c3a8"/>
<rect x="1230.07" y="1967.13" width="24.10" height="74.37" fill="#f5ad8c"/>
<rect x="1254.17" y="1967.13" width="24.10" height="74.37" fill="#fddbc7"/>
<rect x="1278.27" y="1967.13" width="24.10" height="74.37" fill="#b2182b"/>
<rect x="1302.37" y="1967.13" width="24.10" height="74.37" fill="#f8dccc"/>
<rect x="1326.47" y="1967.13" width="24.10" height="74.37" fill="#f2ded1"/>
<rect x="1350.58" y="1967.13" width="24.10" height="74.37" fill="#d1e5f0"/>
<rect x="1374.68" y="1967.13" width="24.10" height="74.37" fill="#d1e5f0"/>
<rect x="1398.78" y="1967.13" width="24.10" height="74.37" fill="#d1e5f0"/>
<rect x="1422.88" y="1967.13" width="24.10" height="74.37" fill="#d1e5f0"/>
<rect x="1446.98" y="1967.13" width="24.10" height="74.37" fill="#d1e5f0"/>
<rect x="1471.08" y="1967.13" width="24.10" height="74.37" fill="#d1e5f0"/>
<rect x="1495.19" y="1967.13" width="24.10" height="74.37" fill="#d1e5f0"/>
<rect x="1519.29" y="1967.13" width="24.10" height="74.37" fill="#d1e5f0"/>
<rect x="1543.39" y="1967.13" width="24.10" height="74.37" fill="#d1e5f0"/>
<rect x="1567.49" y="1967.13" width="24.10" height="74.37" fill="#d1e5f0"/>
<rect x="1591.59" y="1967.13" width="24.10" height="74.37" fill="#d1e5f0"/>
<rect x="1615.69" y="1967.13" width="24.10" height="74.37" fill="#d1e5f0"/>
<rect x="1639.80" y="1967.13" width="24.10" height="74.37" fill="#d1e5f0"/>
<rect x="1663.90" y="1967.13" width="24.10" height="74.37" fill="#d1e5f0"/>
<rect x="2138.5" y="167" width="48" height="48.5" fill="#ee1248"/>
<rect x="2138.5" y="215.5" width="48" height="48.5" fill="#3cb44b"/>
<path fill="none" stroke="#8f9499" stroke-width="3.8" d="M266.00 180.70V2043.00M266.00 134.00V171.00M290.10 180.70V2043.00M290.10 134.00V171.00M314.20 180.70V2043.00M314.20 134.00V171.00M338.31 180.70V2043.00M338.31 134.00V171.00M362.41 180.70V2043.00M362.41 134.00V171.00M386.51 180.70V2043.00M386.51 134.00V171.00M410.61 180.70V2043.00M410.61 134.00V171.00M434.71 180.70V2043.00M434.71 134.00V171.00M458.81 180.70V2043.00M458.81 134.00V171.00M482.92 180.70V2043.00M482.92 134.00V171.00M507.02 180.70V2043.00M507.02 134.00V171.00M531.12 180.70V2043.00M531.12 134.00V171.00M555.22 180.70V2043.00M555.22 134.00V171.00M579.32 180.70V2043.00M579.32 134.00V171.00M603.42 180.70V2043.00M603.42 134.00V171.00M627.53 180.70V2043.00M627.53 134.00V171.00M651.63 180.70V2043.00M651.63 134.00V171.00M675.73 180.70V2043.00M675.73 134.00V171.00M699.83 180.70V2043.00M699.83 134.00V171.00M723.93 180.70V2043.00M723.93 134.00V171.00M748.03 180.70V2043.00M748.03 134.00V171.00M772.14 180.70V2043.00M772.14 134.00V171.00M796.24 180.70V2043.00M796.24 134.00V171.00M820.34 180.70V2043.00M820.34 134.00V171.00M844.44 180.70V2043.00M844.44 134.00V171.00M868.54 180.70V2043.00M868.54 134.00V171.00M892.64 180.70V2043.00M892.64 134.00V171.00M916.75 180.70V2043.00M916.75 134.00V171.00M940.85 180.70V2043.00M940.85 134.00V171.00M964.95 180.70V2043.00M964.95 134.00V171.00M989.05 180.70V2043.00M989.05 134.00V171.00M1013.15 180.70V2043.00M1013.15 134.00V171.00M1037.25 180.70V2043.00M1037.25 134.00V171.00M1061.36 180.70V2043.00M1061.36 134.00V171.00M1085.46 180.70V2043.00M1085.46 134.00V171.00M1109.56 180.70V2043.00M1109.56 134.00V171.00M1133.66 180.70V2043.00M1133.66 134.00V171.00M1157.76 180.70V2043.00M1157.76 134.00V171.00M1181.86 180.70V2043.00M1181.86 134.00V171.00M1205.97 180.70V2043.00M1205.97 134.00V171.00M1230.07 180.70V2043.00M1230.07 134.00V171.00M1254.17 180.70V2043.00M1254.17 134.00V171.00M1278.27 180.70V2043.00M1278.27 134.00V171.00M1302.37 180.70V2043.00M1302.37 134.00V171.00M1326.47 180.70V2043.00M1326.47 134.00V171.00M1350.58 180.70V2043.00M1350.58 134.00V171.00M1374.68 180.70V2043.00M1374.68 134.00V171.00M1398.78 180.70V2043.00M1398.78 134.00V171.00M1422.88 180.70V2043.00M1422.88 134.00V171.00M1446.98 180.70V2043.00M1446.98 134.00V171.00M1471.08 180.70V2043.00M1471.08 134.00V171.00M1495.19 180.70V2043.00M1495.19 134.00V171.00M1519.29 180.70V2043.00M1519.29 134.00V171.00M1543.39 180.70V2043.00M1543.39 134.00V171.00M1567.49 180.70V2043.00M1567.49 134.00V171.00M1591.59 180.70V2043.00M1591.59 134.00V171.00M1615.69 180.70V2043.00M1615.69 134.00V171.00M1639.80 180.70V2043.00M1639.80 134.00V171.00M1663.90 180.70V2043.00M1663.90 134.00V171.00M1688.00 180.70V2043.00M1688.00 134.00V171.00M2138.50 165.50V265.50M2186.50 165.50V265.50"/>
<path fill="none" stroke="#8f9499" stroke-width="3.0" d="M264.10 182.20H1689.90M264.10 256.57H1689.90M264.10 330.94H1689.90M264.10 405.32H1689.90M264.10 479.69H1689.90M264.10 554.06H1689.90M264.10 628.43H1689.90M264.10 702.80H1689.90M264.10 777.18H1689.90M264.10 851.55H1689.90M264.10 925.92H1689.90M264.10 1000.29H1689.90M264.10 1074.66H1689.90M264.10 1149.04H1689.90M264.10 1223.41H1689.90M264.10 1297.78H1689.90M264.10 1372.15H1689.90M264.10 1446.52H1689.90M264.10 1520.90H1689.90M264.10 1595.27H1689.90M264.10 1669.64H1689.90M264.10 1744.01H1689.90M264.10 1818.38H1689.90M264.10 1892.76H1689.90M264.10 1967.13H1689.90M264.10 2041.50H1689.90M264.10 135.50H1689.90M264.10 169.50H1689.90M2136.60 167.00H2188.40M2136.60 215.50H2188.40M2136.60 264.00H2188.40"/>
</g>
<g filter="url(#bl)">
<text class="b" x="1701.8" y="163.7" font-size="33" textLength="87" lengthAdjust="spacingAndGlyphs">class</text>
<text x="1701" y="232.90" font-size="35.3" textLength="304.5" lengthAdjust="spacingAndGlyphs">2-Methyl-3-hydroxy</text>
<text x="1701" y="307.15" font-size="35.3" textLength="286.7" lengthAdjust="spacingAndGlyphs">2-Hydroxyhippuric</text>
<text x="1701" y="381.40" font-size="35.3" textLength="292.7" lengthAdjust="spacingAndGlyphs">2-Phosphoglyceric</text>
<text x="1701" y="455.65" font-size="35.3" textLength="201.7" lengthAdjust="spacingAndGlyphs">Sebacic acid</text>
<text x="1701" y="529.90" font-size="35.3" textLength="288.7" lengthAdjust="spacingAndGlyphs">3-Methylcrotonylgl</text>
<text x="1701" y="604.15" font-size="35.3" textLength="274.9" lengthAdjust="spacingAndGlyphs">2-Ketoglutaric aci</text>
<text x="1701" y="678.40" font-size="35.3" textLength="290.6" lengthAdjust="spacingAndGlyphs">5-Aminovaleric aci</text>
<text x="1701" y="752.65" font-size="35.3" textLength="249.2" lengthAdjust="spacingAndGlyphs">2-Aminoethanol</text>
<text x="1701" y="826.90" font-size="35.3" textLength="102.8" lengthAdjust="spacingAndGlyphs">Serine</text>
<text x="1701" y="901.15" font-size="35.3" textLength="276.8" lengthAdjust="spacingAndGlyphs">2-Hydroxyglutaric</text>
<text x="1701" y="975.40" font-size="35.3" textLength="298.6" lengthAdjust="spacingAndGlyphs">3-Hydroxyanthranil</text>
<text x="1701" y="1049.65" font-size="35.3" textLength="120.6" lengthAdjust="spacingAndGlyphs">Arabitol</text>
<text x="1701" y="1123.90" font-size="35.3" textLength="300.6" lengthAdjust="spacingAndGlyphs">2-Aminoadipic acid</text>
<text x="1701" y="1198.15" font-size="35.3" textLength="195.8" lengthAdjust="spacingAndGlyphs">Suberic acid</text>
<text x="1701" y="1272.40" font-size="35.3" textLength="296.6" lengthAdjust="spacingAndGlyphs">Phenylpyruvic acid</text>
<text x="1701" y="1346.65" font-size="35.3" textLength="306.6" lengthAdjust="spacingAndGlyphs">heptadecanoic acid</text>
<text x="1701" y="1420.90" font-size="35.3" textLength="174.0" lengthAdjust="spacingAndGlyphs">Oxalic acid</text>
<text x="1701" y="1495.15" font-size="35.3" textLength="160.2" lengthAdjust="spacingAndGlyphs">Galactose</text>
<text x="1701" y="1569.40" font-size="35.3" textLength="316.4" lengthAdjust="spacingAndGlyphs">Fructose 1-phospha</text>
<text x="1701" y="1643.65" font-size="35.3" textLength="263.0" lengthAdjust="spacingAndGlyphs">eicosaenoic acid</text>
<text x="1701" y="1717.90" font-size="35.3" textLength="243.2" lengthAdjust="spacingAndGlyphs">Glutaconic acid</text>
<text x="1701" y="1792.15" font-size="35.3" textLength="140.4" lengthAdjust="spacingAndGlyphs">Xanthine</text>
<text x="1701" y="1866.40" font-size="35.3" textLength="288.7" lengthAdjust="spacingAndGlyphs">5-Aminolevulinic a</text>
<text x="1701" y="1940.65" font-size="35.3" textLength="207.6" lengthAdjust="spacingAndGlyphs">Dihydrouracil</text>
<text x="1701" y="2014.90" font-size="35.3" textLength="140.4" lengthAdjust="spacingAndGlyphs">lactulose</text>
<text class="c" transform="translate(265.45 2054.50) rotate(90)" font-size="35.3" textLength="288.0" lengthAdjust="spacingAndGlyphs">1682238_18d.qgd</text>
<text class="c" transform="translate(289.55 2054.50) rotate(90)" font-size="35.3" textLength="268.1" lengthAdjust="spacingAndGlyphs">1682238_2d.qgd</text>
<text class="c" transform="translate(313.65 2054.50) rotate(90)" font-size="35.3" textLength="288.0" lengthAdjust="spacingAndGlyphs">1683026_13d.qgd</text>
<text class="c" transform="translate(337.76 2054.50) rotate(90)" font-size="35.3" textLength="268.1" lengthAdjust="spacingAndGlyphs">1683026_1d.qgd</text>
<text class="c" transform="translate(361.86 2054.50) rotate(90)" font-size="35.3" textLength="268.1" lengthAdjust="spacingAndGlyphs">1683026_7d.qgd</text>
<text class="c" transform="translate(385.96 2054.50) rotate(90)" font-size="35.3" textLength="288.0" lengthAdjust="spacingAndGlyphs">1686462_13d.qgd</text>
<text class="c" transform="translate(410.06 2054.50) rotate(90)" font-size="35.3" textLength="268.1" lengthAdjust="spacingAndGlyphs">1686462_7d.qgd</text>
<text class="c" transform="translate(434.16 2054.50) rotate(90)" font-size="35.3" textLength="288.0" lengthAdjust="spacingAndGlyphs">1689164_14d.qgd</text>
<text class="c" transform="translate(458.26 2054.50) rotate(90)" font-size="35.3" textLength="268.1" lengthAdjust="spacingAndGlyphs">1689164_1d.qgd</text>
<text class="c" transform="translate(482.37 2054.50) rotate(90)" font-size="35.3" textLength="288.0" lengthAdjust="spacingAndGlyphs">1689171_14d.qgd</text>
<text class="c" transform="translate(506.47 2054.50) rotate(90)" font-size="35.3" textLength="268.1" lengthAdjust="spacingAndGlyphs">1689171_1d.qgd</text>
<text class="c" transform="translate(530.57 2054.50) rotate(90)" font-size="35.3" textLength="288.0" lengthAdjust="spacingAndGlyphs">1689177_14d.qgd</text>
<text class="c" transform="translate(554.67 2054.50) rotate(90)" font-size="35.3" textLength="268.1" lengthAdjust="spacingAndGlyphs">1689177_1d.qgd</text>
<text class="c" transform="translate(578.77 2054.50) rotate(90)" font-size="35.3" textLength="288.0" lengthAdjust="spacingAndGlyphs">1690825_14d.qgd</text>
<text class="c" transform="translate(602.87 2054.50) rotate(90)" font-size="35.3" textLength="268.1" lengthAdjust="spacingAndGlyphs">1695435_9d.qgd</text>
<text class="c" transform="translate(626.98 2054.50) rotate(90)" font-size="35.3" textLength="268.1" lengthAdjust="spacingAndGlyphs">1695435_6d.qgd</text>
<text class="c" transform="translate(651.08 2054.50) rotate(90)" font-size="35.3" textLength="268.1" lengthAdjust="spacingAndGlyphs">1695810_7d.qgd</text>
<text class="c" transform="translate(675.18 2054.50) rotate(90)" font-size="35.3" textLength="268.1" lengthAdjust="spacingAndGlyphs">1695812_7d.qgd</text>
<text class="c" transform="translate(699.28 2054.50) rotate(90)" font-size="35.3" textLength="288.0" lengthAdjust="spacingAndGlyphs">1695980_13d.qgd</text>
<text class="c" transform="translate(723.38 2054.50) rotate(90)" font-size="35.3" textLength="268.1" lengthAdjust="spacingAndGlyphs">1695980_1d.qgd</text>
<text class="c" transform="translate(747.48 2054.50) rotate(90)" font-size="35.3" textLength="288.0" lengthAdjust="spacingAndGlyphs">1695981_13d.qgd</text>
<text class="c" transform="translate(771.59 2054.50) rotate(90)" font-size="35.3" textLength="268.1" lengthAdjust="spacingAndGlyphs">1695981_1d.qgd</text>
<text class="c" transform="translate(795.69 2054.50) rotate(90)" font-size="35.3" textLength="288.0" lengthAdjust="spacingAndGlyphs">1699590_13d.qgd</text>
<text class="c" transform="translate(819.79 2054.50) rotate(90)" font-size="35.3" textLength="268.1" lengthAdjust="spacingAndGlyphs">1699590_2d.qgd</text>
<text class="c" transform="translate(843.89 2054.50) rotate(90)" font-size="35.3" textLength="288.0" lengthAdjust="spacingAndGlyphs">1699591_13d.qgd</text>
<text class="c" transform="translate(867.99 2054.50) rotate(90)" font-size="35.3" textLength="288.0" lengthAdjust="spacingAndGlyphs">1678747_13d.qgd</text>
<text class="c" transform="translate(892.09 2054.50) rotate(90)" font-size="35.3" textLength="268.1" lengthAdjust="spacingAndGlyphs">1678747_7d.qgd</text>
<text class="c" transform="translate(916.20 2054.50) rotate(90)" font-size="35.3" textLength="288.0" lengthAdjust="spacingAndGlyphs">1678892_14d.qgd</text>
<text class="c" transform="translate(940.30 2054.50) rotate(90)" font-size="35.3" textLength="268.1" lengthAdjust="spacingAndGlyphs">1678892_7d.qgd</text>
<text class="c" transform="translate(964.40 2054.50) rotate(90)" font-size="35.3" textLength="268.1" lengthAdjust="spacingAndGlyphs">1682068_1d.qgd</text>
<text class="c" transform="translate(988.50 2054.50) rotate(90)" font-size="35.3" textLength="288.0" lengthAdjust="spacingAndGlyphs">1682188_14d.qgd</text>
<text class="c" transform="translate(1012.60 2054.50) rotate(90)" font-size="35.3" textLength="268.1" lengthAdjust="spacingAndGlyphs">1682188_1d.qgd</text>
<text class="c" transform="translate(1036.71 2054.50) rotate(90)" font-size="35.3" textLength="288.0" lengthAdjust="spacingAndGlyphs">1682280_13d.qgd</text>
<text class="c" transform="translate(1060.81 2054.50) rotate(90)" font-size="35.3" textLength="268.1" lengthAdjust="spacingAndGlyphs">1682280_1d.qgd</text>
<text class="c" transform="translate(1084.91 2054.50) rotate(90)" font-size="35.3" textLength="268.1" lengthAdjust="spacingAndGlyphs">1682280_6d.qgd</text>
<text class="c" transform="translate(1109.01 2054.50) rotate(90)" font-size="35.3" textLength="288.0" lengthAdjust="spacingAndGlyphs">1682400_14d.qgd</text>
<text class="c" transform="translate(1133.11 2054.50) rotate(90)" font-size="35.3" textLength="268.1" lengthAdjust="spacingAndGlyphs">1682400_1d.qgd</text>
<text class="c" transform="translate(1157.21 2054.50) rotate(90)" font-size="35.3" textLength="268.1" lengthAdjust="spacingAndGlyphs">1682400_7d.qgd</text>
<text class="c" transform="translate(1181.32 2054.50) rotate(90)" font-size="35.3" textLength="288.0" lengthAdjust="spacingAndGlyphs">1682401_14d.qgd</text>
<text class="c" transform="translate(1205.42 2054.50) rotate(90)" font-size="35.3" textLength="268.1" lengthAdjust="spacingAndGlyphs">1682401_1d.qgd</text>
<text class="c" transform="translate(1229.52 2054.50) rotate(90)" font-size="35.3" textLength="268.1" lengthAdjust="spacingAndGlyphs">1682401_7d.qgd</text>
<text class="c" transform="translate(1253.62 2054.50) rotate(90)" font-size="35.3" textLength="288.0" lengthAdjust="spacingAndGlyphs">1683126_14d.qgd</text>
<text class="c" transform="translate(1277.72 2054.50) rotate(90)" font-size="35.3" textLength="268.1" lengthAdjust="spacingAndGlyphs">1683126_1d.qgd</text>
<text class="c" transform="translate(1301.82 2054.50) rotate(90)" font-size="35.3" textLength="268.1" lengthAdjust="spacingAndGlyphs">1683126_7d.qgd</text>
<text class="c" transform="translate(1325.93 2054.50) rotate(90)" font-size="35.3" textLength="288.0" lengthAdjust="spacingAndGlyphs">1683263_14d.qgd</text>
<text class="c" transform="translate(1350.03 2054.50) rotate(90)" font-size="35.3" textLength="268.1" lengthAdjust="spacingAndGlyphs">1683263_1d.qgd</text>
<text class="c" transform="translate(1374.13 2054.50) rotate(90)" font-size="35.3" textLength="268.1" lengthAdjust="spacingAndGlyphs">1683263_7d.qgd</text>
<text class="c" transform="translate(1398.23 2054.50) rotate(90)" font-size="35.3" textLength="288.0" lengthAdjust="spacingAndGlyphs">1683264_14d.qgd</text>
<text class="c" transform="translate(1422.33 2054.50) rotate(90)" font-size="35.3" textLength="268.1" lengthAdjust="spacingAndGlyphs">1683264_1d.qgd</text>
<text class="c" transform="translate(1446.43 2054.50) rotate(90)" font-size="35.3" textLength="268.1" lengthAdjust="spacingAndGlyphs">1683264_7d.qgd</text>
<text class="c" transform="translate(1470.54 2054.50) rotate(90)" font-size="35.3" textLength="288.0" lengthAdjust="spacingAndGlyphs">1686512_14d.qgd</text>
<text class="c" transform="translate(1494.64 2054.50) rotate(90)" font-size="35.3" textLength="268.1" lengthAdjust="spacingAndGlyphs">1686512_7d.qgd</text>
<text class="c" transform="translate(1518.74 2054.50) rotate(90)" font-size="35.3" textLength="268.1" lengthAdjust="spacingAndGlyphs">1688858_1d.qgd</text>
<text class="c" transform="translate(1542.84 2054.50) rotate(90)" font-size="35.3" textLength="288.0" lengthAdjust="spacingAndGlyphs">1688859_16d.qgd</text>
<text class="c" transform="translate(1566.94 2054.50) rotate(90)" font-size="35.3" textLength="268.1" lengthAdjust="spacingAndGlyphs">1688859_1d.qgd</text>
<text class="c" transform="translate(1591.04 2054.50) rotate(90)" font-size="35.3" textLength="288.0" lengthAdjust="spacingAndGlyphs">1689205_14d.qgd</text>
<text class="c" transform="translate(1615.15 2054.50) rotate(90)" font-size="35.3" textLength="268.1" lengthAdjust="spacingAndGlyphs">1689205_1d.qgd</text>
<text class="c" transform="translate(1639.25 2054.50) rotate(90)" font-size="35.3" textLength="288.0" lengthAdjust="spacingAndGlyphs">1693251_13d.qgd</text>
<text class="c" transform="translate(1663.35 2054.50) rotate(90)" font-size="35.3" textLength="268.1" lengthAdjust="spacingAndGlyphs">1693251_1d.qgd</text>
<text x="2096.5" y="196.6" font-size="34">4</text>
<text x="2096.5" y="334.0" font-size="34">2</text>
<text x="2096.5" y="470.2" font-size="34">0</text>
<text x="2096.5" y="607.6" font-size="34">-2</text>
<text x="2096.5" y="745.0" font-size="34">-4</text>
<text class="b" x="2138.6" y="154.3" font-size="33" textLength="87.7" lengthAdjust="spacingAndGlyphs">class</text>
<text class="t" style="font-weight:normal;stroke:#000;stroke-width:1.4" x="2212.5" y="200.2" font-size="44" textLength="82.5" lengthAdjust="spacingAndGlyphs">HM</text>
<text class="t" style="font-weight:normal;stroke:#000;stroke-width:1.4" x="2212.5" y="257.8" font-size="44" textLength="69" lengthAdjust="spacingAndGlyphs">FM</text>
</g>
<rect x="2036" y="130.3" width="44.3" height="654.7" fill="url(#lg)"/>
<path class="d" filter="url(#bd)" d="M266.0 368.1H242.1V442.5H266.0M266.0 293.8H229.4V405.3H242.1M266.0 219.4H222.6V349.5H229.4M266.0 516.9H253.7V591.2H266.0M266.0 814.4H243.0V888.7H266.0M266.0 740.0H235.3V851.5H243.0M266.0 665.6H230.4V795.8H235.3M253.7 554.1H222.6V730.7H230.4M266.0 1111.8H252.8V1186.2H266.0M266.0 1037.5H242.8V1149.0H252.8M266.0 1335.0H233.3V1409.3H266.0M266.0 1260.6H230.4V1372.2H233.3M242.8 1093.3H223.8V1316.4H230.4M266.0 1558.1H230.4V1632.5H266.0M266.0 1483.7H225.0V1595.3H230.4M266.0 1929.9H237.2V2004.3H266.0M266.0 1855.6H229.8V1967.1H237.2M266.0 1781.2H219.0V1911.3H229.8M266.0 1706.8H213.9V1846.3H219.0M225.0 1539.5H207.1V1776.5H213.9M223.8 1204.8H201.8V1658.0H207.1M266.0 963.1H198.0V1431.4H201.8M222.6 642.4H159.2V1197.3H198.0M222.6 284.5H37.6V919.8H159.2"/>
</svg></body></html>
